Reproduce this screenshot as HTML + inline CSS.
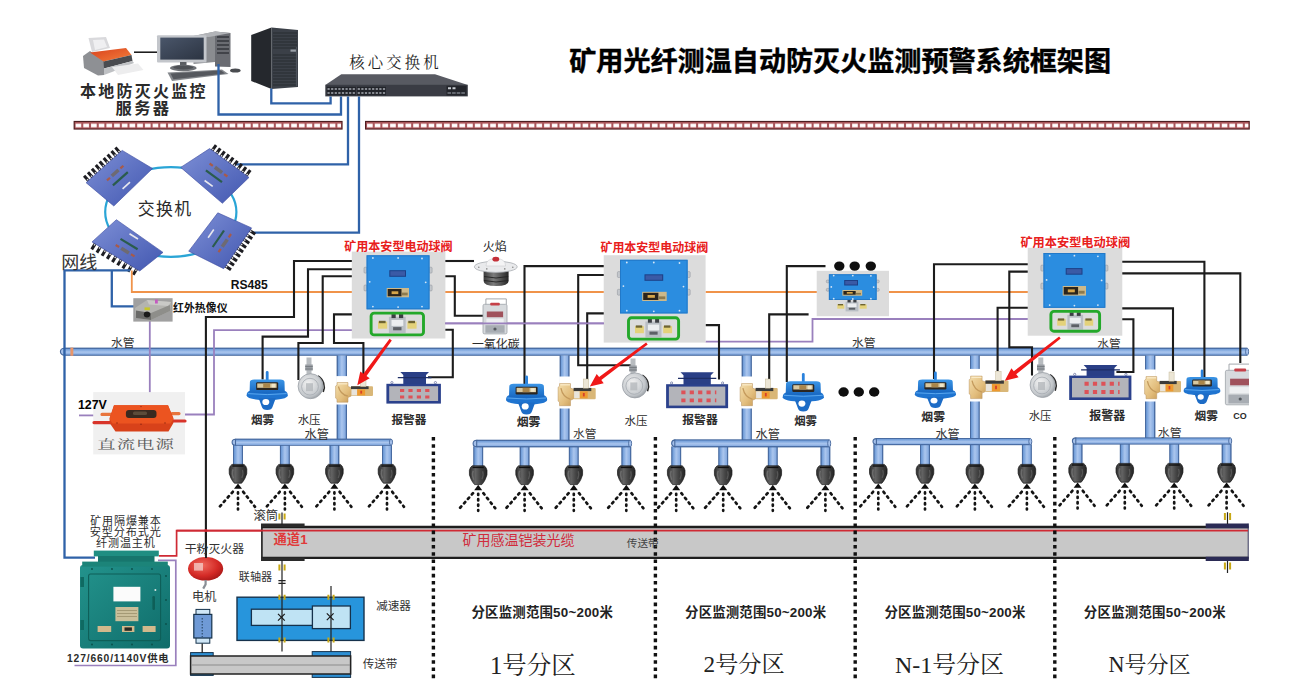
<!DOCTYPE html>
<html><head><meta charset="utf-8"><title>diagram</title>
<style>html,body{margin:0;padding:0;background:#fff;font-family:"Liberation Sans",sans-serif}svg{display:block}</style>
</head><body>
<svg width="1305" height="687" viewBox="0 0 1305 687" role="img" aria-label="矿用光纤测温自动防灭火监测预警系统框架图">
<desc>矿用光纤测温自动防灭火监测预警系统框架图 本地防灭火监控服务器 核心交换机 交换机 网线 RS485 红外热像仪 水管 127V 直流电源 矿用本安型电动球阀 火焰 一氧化碳 烟雾 水压 报警器 CO 矿用隔爆兼本安型分布式光纤测温主机 127/660/1140V供电 干粉灭火器 电机 联轴器 滚筒 通道1 减速器 传送带 矿用感温铠装光缆 分区监测范围50~200米 1号分区 2号分区 N-1号分区 N号分区</desc>
<defs>
<linearGradient id="gOr" x1="0" y1="0" x2="1" y2="1"><stop offset="0" stop-color="#d8401c"/><stop offset="1" stop-color="#f4803c"/></linearGradient>
<linearGradient id="gScr" x1="0" y1="0" x2="1" y2="1"><stop offset="0" stop-color="#4a566a"/><stop offset="1" stop-color="#2c3442"/></linearGradient>
<linearGradient id="gSw" x1="0" y1="0" x2="1" y2="1"><stop offset="0" stop-color="#7d8fd6"/><stop offset="1" stop-color="#4257b0"/></linearGradient>
<linearGradient id="gPipeH" x1="0" y1="0" x2="0" y2="1"><stop offset="0" stop-color="#46689c"/><stop offset="0.12" stop-color="#4a6ea6"/><stop offset="0.17" stop-color="#6f9cd8"/><stop offset="0.55" stop-color="#abc6ee"/><stop offset="0.82" stop-color="#86abe0"/><stop offset="0.88" stop-color="#4a6ea6"/><stop offset="1" stop-color="#46689c"/></linearGradient>
<linearGradient id="gPipeV" x1="0" y1="0" x2="1" y2="0"><stop offset="0" stop-color="#46689c"/><stop offset="0.1" stop-color="#4a6ea6"/><stop offset="0.15" stop-color="#6f9cd8"/><stop offset="0.5" stop-color="#abc6ee"/><stop offset="0.84" stop-color="#86abe0"/><stop offset="0.9" stop-color="#4a6ea6"/><stop offset="1" stop-color="#46689c"/></linearGradient>
<linearGradient id="gNoz" x1="0" y1="0" x2="1" y2="0"><stop offset="0" stop-color="#2c2c2c"/><stop offset="0.35" stop-color="#636363"/><stop offset="0.6" stop-color="#454545"/><stop offset="1" stop-color="#242424"/></linearGradient>
<radialGradient id="gDial" cx="0.4" cy="0.4" r="0.7"><stop offset="0" stop-color="#f2f2f2"/><stop offset="0.7" stop-color="#c4c8cc"/><stop offset="1" stop-color="#8c9298"/></radialGradient>
<linearGradient id="gBrass" x1="0" y1="0" x2="1" y2="1"><stop offset="0" stop-color="#f4dfae"/><stop offset="0.6" stop-color="#e2bd7c"/><stop offset="1" stop-color="#c79a55"/></linearGradient>
<linearGradient id="gSmoke" x1="0" y1="0" x2="0" y2="1"><stop offset="0" stop-color="#3b95e6"/><stop offset="1" stop-color="#1766c0"/></linearGradient>
<radialGradient id="gExt" cx="0.4" cy="0.35" r="0.75"><stop offset="0" stop-color="#f06a5e"/><stop offset="0.6" stop-color="#d42a26"/><stop offset="1" stop-color="#9c1414"/></radialGradient>
<linearGradient id="gTeal" x1="0" y1="0" x2="1" y2="1"><stop offset="0" stop-color="#23938c"/><stop offset="1" stop-color="#0f6c6a"/></linearGradient>
<linearGradient id="gRedBox" x1="0" y1="0" x2="0" y2="1"><stop offset="0" stop-color="#f0623c"/><stop offset="1" stop-color="#d63a1e"/></linearGradient>
<linearGradient id="gFlame" x1="0" y1="0" x2="1" y2="0"><stop offset="0" stop-color="#3a3a3a"/><stop offset="0.4" stop-color="#7c7c7c"/><stop offset="1" stop-color="#262626"/></linearGradient>
</defs><defs><clipPath id="cpR"><rect x="0" y="0" width="1249" height="687"/></clipPath></defs><rect x="73.6" y="120.9" width="269.0" height="8.7" fill="#4d1d20"/>
<rect x="74.7" y="122.0" width="266.8" height="6.5" fill="#a9565b"/>
<path d="M75.6 125.5 H341.0" stroke="#f3cfd0" stroke-width="4.0" stroke-dasharray="5.7 2.0" fill="none"/>
<path d="M75.9 125.5 H341.0" stroke="#fff" stroke-width="2.6" stroke-dasharray="5.1 2.6" fill="none"/>
<rect x="365.0" y="120.9" width="884.8" height="8.7" fill="#4d1d20"/>
<rect x="366.1" y="122.0" width="882.6" height="6.5" fill="#a9565b"/>
<path d="M367.0 125.5 H1248.2" stroke="#f3cfd0" stroke-width="4.0" stroke-dasharray="5.7 2.0" fill="none"/>
<path d="M367.3 125.5 H1248.2" stroke="#fff" stroke-width="2.6" stroke-dasharray="5.1 2.6" fill="none"/>
<g>
<polygon points="88.5,38 106,37 110,48 92,52" fill="#d9d9dc"/>
<polygon points="93,40 104,39.5 107,47 95,50" fill="#efeff1"/>
<polygon points="83,56 90,51 104,61 104,75 98,75.5 84,68" fill="#8e9094"/>
<polygon points="90,52.5 126,48 131.5,55 103.5,61.5" fill="url(#gOr)"/>
<polygon points="103.5,61.5 131.5,55 132.5,61 104,68.5" fill="#4a4c50"/>
<polygon points="104,68.5 132.5,61 134,63 112,72 104,75" fill="#bfc1c4"/>
<polygon points="112,67 138,63.5 143.5,70 118,75" fill="#ededee"/>
</g>
<path d="M134.0 52.2 L157.5 52.2" fill="none" stroke="#111" stroke-width="1.50" stroke-linejoin="miter" />
<polygon points="193.5,36 215,31.5 215,62 193.5,64" fill="#8a8c90"/>
<polygon points="215,31.5 230.5,33 230.5,67 215,66.5" fill="#6a6c72"/>
<path d="M217 37H229M217 41H229M217 45H229M217 49H229M217 53H229" stroke="#34363c" stroke-width="1.4"/>
<polygon points="193.5,36 215,31.5 230.5,33 209,37" fill="#b2b4b8"/>
<rect x="157" y="35.3" width="49.5" height="27.2" rx="1" fill="#c3c6cb"/>
<rect x="160.3" y="37.6" width="43.4" height="22" fill="url(#gScr)"/>
<rect x="180" y="62" width="6.5" height="6" fill="#5a5d62"/>
<ellipse cx="183.3" cy="68" rx="13.3" ry="3.3" fill="#6f7277"/>
<ellipse cx="183.3" cy="67.4" rx="10" ry="2" fill="#4d5055"/>
<polygon points="167.5,72.5 222,69.5 228.5,74 172,81" fill="#85888d"/>
<polygon points="170.5,73.6 221,70.6 225,73.6 173.5,79.2" fill="#55585e"/>
<ellipse cx="235.3" cy="70.6" rx="5.3" ry="2" fill="#4a4c50"/>
<polygon points="251.2,35 271.5,27.5 271.5,89 251.2,81" fill="#25282d"/>
<polygon points="271.5,27.5 298,30 298,87 271.5,89" fill="#3b4048"/>
<path d="M273 33.0H297M273 36.0H297M273 39.0H297M273 42.0H297M273 45.0H297M273 48.0H297M273 55.0H297M273 58.0H297M273 61.0H297M273 64.0H297M273 67.0H297M273 70.0H297M273 73.0H297M273 76.0H297M273 79.0H297M273 82.0H297M273 85.0H297" stroke="#272a30" stroke-width="0.9"/>
<rect x="290.5" y="49.5" width="5.5" height="2.2" fill="#9aa0a8"/>
<path d="M296.4 47V86" stroke="#50555e" stroke-width="1"/>
<polygon points="341.3,74.2 435,74.2 467.8,85 325.3,85" fill="#585a62"/>
<rect x="325.3" y="84.8" width="142.5" height="11.6" fill="#3a3c44"/>
<rect x="326.8" y="86.8" width="29" height="8.4" fill="#22242a"/>
<rect x="357" y="86.8" width="29" height="8.4" fill="#22242a"/>
<path d="M327.5 89H355.3M327.5 93H355.3M357.7 89H385.3M357.7 93H385.3" stroke="#a8acb4" stroke-width="1.6" stroke-dasharray="2.2 1.4"/>
<rect x="446.5" y="85.8" width="20" height="9.6" fill="#23252b"/>
<path d="M448 88.3H457" stroke="#c8ccd2" stroke-width="2" stroke-dasharray="3 1.5"/>
<path d="M447.5 93H465.5" stroke="#7a7e86" stroke-width="1.4" stroke-dasharray="3.6 1"/>
<path d="M218.5 64.0 L218.5 114.5 L341.0 114.5 L341.0 96.4" fill="none" stroke="#2f62a8" stroke-width="2.30" stroke-linejoin="miter" />
<path d="M271.3 88.5 L271.3 103.3 L330.6 103.3 L330.6 96.4" fill="none" stroke="#2f62a8" stroke-width="2.30" stroke-linejoin="miter" />
<path d="M348.0 96.4 L348.0 164.3 L234.0 164.3" fill="none" stroke="#2f62a8" stroke-width="2.30" stroke-linejoin="miter" />
<path d="M359.0 96.4 L359.0 232.7 L252.0 232.7" fill="none" stroke="#2f62a8" stroke-width="2.30" stroke-linejoin="miter" />
<ellipse cx="170.8" cy="212" rx="65.6" ry="44.8" fill="none" stroke="#2aa5d6" stroke-width="2.2"/>
<path d="M88.8 181.0L84.1 175.7" stroke="#1d1d22" stroke-width="3"/>
<path d="M88.3 180.4L87.1 179.1" stroke="#d8d8dc" stroke-width="1.4"/>
<path d="M92.7 177.5L88.0 172.2" stroke="#1d1d22" stroke-width="3"/>
<path d="M92.2 176.9L91.0 175.6" stroke="#d8d8dc" stroke-width="1.4"/>
<path d="M96.6 173.9L91.9 168.7" stroke="#1d1d22" stroke-width="3"/>
<path d="M96.2 173.4L95.0 172.1" stroke="#d8d8dc" stroke-width="1.4"/>
<path d="M100.6 170.4L95.8 165.1" stroke="#1d1d22" stroke-width="3"/>
<path d="M100.1 169.9L98.9 168.6" stroke="#d8d8dc" stroke-width="1.4"/>
<path d="M104.5 166.9L99.7 161.6" stroke="#1d1d22" stroke-width="3"/>
<path d="M104.0 166.4L102.8 165.1" stroke="#d8d8dc" stroke-width="1.4"/>
<path d="M108.4 163.4L103.7 158.1" stroke="#1d1d22" stroke-width="3"/>
<path d="M107.9 162.9L106.7 161.5" stroke="#d8d8dc" stroke-width="1.4"/>
<path d="M112.3 159.9L107.6 154.6" stroke="#1d1d22" stroke-width="3"/>
<path d="M111.9 159.4L110.7 158.0" stroke="#d8d8dc" stroke-width="1.4"/>
<path d="M116.3 156.4L111.5 151.1" stroke="#1d1d22" stroke-width="3"/>
<path d="M115.8 155.9L114.6 154.5" stroke="#d8d8dc" stroke-width="1.4"/>
<path d="M120.2 152.9L115.4 147.6" stroke="#1d1d22" stroke-width="3"/>
<path d="M119.7 152.4L118.5 151.0" stroke="#d8d8dc" stroke-width="1.4"/>
<polygon points="122.2,150.4 152.5,168.5 113.8,206.0 86.1,182.7" fill="url(#gSw)" stroke="#3a4aa0" stroke-width="0.6"/>
<path d="M112.9 185.4L127.8 172.1" stroke="#2a5c4c" stroke-width="2.2"/>
<path d="M111.8 176.0L118.5 170.0" stroke="#6e6a72" stroke-width="3.6"/>
<path d="M107.0 180.4L110.0 177.7" stroke="#a85a48" stroke-width="2.2"/>
<path d="M120.4 168.4L123.4 165.7" stroke="#a85a48" stroke-width="2.2"/>
<path d="M122.6 188.8L130.0 182.1" stroke="#e9e9ee" stroke-width="1.6"/>
<path d="M211.9 150.9L216.1 145.1" stroke="#1d1d22" stroke-width="3"/>
<path d="M212.3 150.3L213.3 148.9" stroke="#d8d8dc" stroke-width="1.4"/>
<path d="M216.2 154.0L220.3 148.3" stroke="#1d1d22" stroke-width="3"/>
<path d="M216.6 153.4L217.6 152.0" stroke="#d8d8dc" stroke-width="1.4"/>
<path d="M220.4 157.1L224.6 151.4" stroke="#1d1d22" stroke-width="3"/>
<path d="M220.9 156.6L221.9 155.1" stroke="#d8d8dc" stroke-width="1.4"/>
<path d="M224.7 160.3L228.9 154.5" stroke="#1d1d22" stroke-width="3"/>
<path d="M225.1 159.7L226.2 158.3" stroke="#d8d8dc" stroke-width="1.4"/>
<path d="M229.0 163.4L233.2 157.7" stroke="#1d1d22" stroke-width="3"/>
<path d="M229.4 162.8L230.5 161.4" stroke="#d8d8dc" stroke-width="1.4"/>
<path d="M233.3 166.5L237.5 160.8" stroke="#1d1d22" stroke-width="3"/>
<path d="M233.7 166.0L234.8 164.5" stroke="#d8d8dc" stroke-width="1.4"/>
<path d="M237.6 169.7L241.8 163.9" stroke="#1d1d22" stroke-width="3"/>
<path d="M238.0 169.1L239.0 167.6" stroke="#d8d8dc" stroke-width="1.4"/>
<path d="M241.9 172.8L246.0 167.1" stroke="#1d1d22" stroke-width="3"/>
<path d="M242.3 172.2L243.3 170.8" stroke="#d8d8dc" stroke-width="1.4"/>
<path d="M246.1 175.9L250.3 170.2" stroke="#1d1d22" stroke-width="3"/>
<path d="M246.5 175.4L247.6 173.9" stroke="#d8d8dc" stroke-width="1.4"/>
<polygon points="209.6,148.6 249.0,177.4 222.4,203.3 180.7,167.4" fill="url(#gSw)" stroke="#3a4aa0" stroke-width="0.6"/>
<path d="M205.9 170.3L222.0 182.1" stroke="#2a5c4c" stroke-width="2.2"/>
<path d="M214.9 167.3L222.1 172.6" stroke="#6e6a72" stroke-width="3.6"/>
<path d="M209.6 163.5L212.8 165.8" stroke="#a85a48" stroke-width="2.2"/>
<path d="M224.1 174.1L227.4 176.5" stroke="#a85a48" stroke-width="2.2"/>
<path d="M204.6 180.5L212.7 186.4" stroke="#e9e9ee" stroke-width="1.6"/>
<path d="M95.4 243.4L91.7 249.4" stroke="#1d1d22" stroke-width="3"/>
<path d="M95.0 244.0L94.1 245.5" stroke="#d8d8dc" stroke-width="1.4"/>
<path d="M100.6 246.5L96.9 252.6" stroke="#1d1d22" stroke-width="3"/>
<path d="M100.2 247.1L99.3 248.7" stroke="#d8d8dc" stroke-width="1.4"/>
<path d="M105.7 249.7L102.0 255.8" stroke="#1d1d22" stroke-width="3"/>
<path d="M105.4 250.3L104.4 251.8" stroke="#d8d8dc" stroke-width="1.4"/>
<path d="M110.9 252.9L107.2 258.9" stroke="#1d1d22" stroke-width="3"/>
<path d="M110.6 253.5L109.6 255.0" stroke="#d8d8dc" stroke-width="1.4"/>
<path d="M116.1 256.0L112.4 262.1" stroke="#1d1d22" stroke-width="3"/>
<path d="M115.7 256.6L114.8 258.2" stroke="#d8d8dc" stroke-width="1.4"/>
<path d="M121.3 259.2L117.6 265.2" stroke="#1d1d22" stroke-width="3"/>
<path d="M120.9 259.8L120.0 261.3" stroke="#d8d8dc" stroke-width="1.4"/>
<path d="M126.5 262.3L122.8 268.4" stroke="#1d1d22" stroke-width="3"/>
<path d="M126.1 262.9L125.2 264.5" stroke="#d8d8dc" stroke-width="1.4"/>
<path d="M131.7 265.5L128.0 271.6" stroke="#1d1d22" stroke-width="3"/>
<path d="M131.3 266.1L130.4 267.6" stroke="#d8d8dc" stroke-width="1.4"/>
<path d="M136.8 268.7L133.2 274.7" stroke="#1d1d22" stroke-width="3"/>
<path d="M136.5 269.3L135.5 270.8" stroke="#d8d8dc" stroke-width="1.4"/>
<polygon points="116.4,219.7 163.0,252.4 139.7,271.0 92.0,241.9" fill="url(#gSw)" stroke="#3a4aa0" stroke-width="0.6"/>
<path d="M120.5 238.9L137.6 249.3" stroke="#2a5c4c" stroke-width="2.2"/>
<path d="M121.2 248.3L128.9 253.0" stroke="#6e6a72" stroke-width="3.6"/>
<path d="M115.7 245.0L119.1 247.0" stroke="#a85a48" stroke-width="2.2"/>
<path d="M131.0 254.3L134.5 256.4" stroke="#a85a48" stroke-width="2.2"/>
<path d="M129.5 233.8L138.0 239.0" stroke="#e9e9ee" stroke-width="1.6"/>
<path d="M249.4 230.3L255.2 234.3" stroke="#1d1d22" stroke-width="3"/>
<path d="M249.9 230.7L251.4 231.7" stroke="#d8d8dc" stroke-width="1.4"/>
<path d="M246.3 234.7L252.2 238.7" stroke="#1d1d22" stroke-width="3"/>
<path d="M246.9 235.1L248.4 236.1" stroke="#d8d8dc" stroke-width="1.4"/>
<path d="M243.3 239.1L249.2 243.2" stroke="#1d1d22" stroke-width="3"/>
<path d="M243.9 239.5L245.4 240.6" stroke="#d8d8dc" stroke-width="1.4"/>
<path d="M240.3 243.6L246.1 247.6" stroke="#1d1d22" stroke-width="3"/>
<path d="M240.8 244.0L242.3 245.0" stroke="#d8d8dc" stroke-width="1.4"/>
<path d="M237.2 248.0L243.1 252.0" stroke="#1d1d22" stroke-width="3"/>
<path d="M237.8 248.4L239.3 249.4" stroke="#d8d8dc" stroke-width="1.4"/>
<path d="M234.2 252.5L240.1 256.5" stroke="#1d1d22" stroke-width="3"/>
<path d="M234.8 252.8L236.3 253.9" stroke="#d8d8dc" stroke-width="1.4"/>
<path d="M231.2 256.9L237.0 260.9" stroke="#1d1d22" stroke-width="3"/>
<path d="M231.7 257.3L233.2 258.3" stroke="#d8d8dc" stroke-width="1.4"/>
<path d="M228.1 261.3L234.0 265.3" stroke="#1d1d22" stroke-width="3"/>
<path d="M228.7 261.7L230.2 262.7" stroke="#d8d8dc" stroke-width="1.4"/>
<path d="M225.1 265.8L231.0 269.8" stroke="#1d1d22" stroke-width="3"/>
<path d="M225.7 266.2L227.2 267.2" stroke="#d8d8dc" stroke-width="1.4"/>
<polygon points="217.8,212.8 251.6,227.9 223.7,268.7 188.7,251.2" fill="url(#gSw)" stroke="#3a4aa0" stroke-width="0.6"/>
<path d="M224.0 230.5L212.7 247.0" stroke="#2a5c4c" stroke-width="2.2"/>
<path d="M227.3 239.4L222.2 246.8" stroke="#6e6a72" stroke-width="3.6"/>
<path d="M231.0 234.0L228.7 237.3" stroke="#a85a48" stroke-width="2.2"/>
<path d="M220.8 248.9L218.5 252.2" stroke="#a85a48" stroke-width="2.2"/>
<path d="M213.8 229.5L208.1 237.8" stroke="#e9e9ee" stroke-width="1.6"/>
<rect x="64.1" y="347.6" width="1183.0" height="8.2" fill="url(#gPipeH)"/>
<path d="M64.3 348.2 A3.9 3.5 0 0 0 64.3 355.2 Z" fill="#a4c0ea" stroke="#46689c" stroke-width="1.1"/>
<ellipse cx="1247.1" cy="351.7" rx="1.5" ry="3.6" fill="#a9c4ee" stroke="#46689c" stroke-width="0.9"/>
<rect x="70.4" y="347.6" width="2.9" height="8.2" fill="#e9966a"/>
<rect x="336.6" y="355.5" width="10.4" height="83.7" fill="url(#gPipeV)"/>
<rect x="559.6" y="355.5" width="10.0" height="84.7" fill="url(#gPipeV)"/>
<rect x="741.6" y="355.5" width="10.3" height="84.5" fill="url(#gPipeV)"/>
<rect x="970.0" y="355.5" width="9.8" height="83.1" fill="url(#gPipeV)"/>
<rect x="1145.0" y="355.5" width="10.4" height="82.5" fill="url(#gPipeV)"/>
<rect x="233.0" y="444.8" width="10.0" height="20.6" fill="url(#gPipeV)"/>
<rect x="279.9" y="444.8" width="10.0" height="20.6" fill="url(#gPipeV)"/>
<rect x="329.4" y="444.8" width="10.0" height="20.6" fill="url(#gPipeV)"/>
<rect x="382.0" y="444.8" width="10.0" height="20.6" fill="url(#gPipeV)"/>
<rect x="235.3" y="438.6" width="155.7" height="7.2" fill="url(#gPipeH)"/>
<path d="M235.5 439.2 A3.4 3.0 0 0 0 235.5 445.2 Z" fill="#a4c0ea" stroke="#46689c" stroke-width="1.1"/>
<ellipse cx="391.0" cy="442.2" rx="1.5" ry="3.1" fill="#a9c4ee" stroke="#46689c" stroke-width="0.9"/>
<g transform="translate(238.0 464.4)">
<path d="M-6 0H6Q8 1 8.8 4.5Q9.6 9 7 13.8Q5.5 16.8 3.6 18.8H-3.6Q-5.5 16.8 -7 13.8Q-9.6 9 -8.8 4.5Q-8 1 -6 0Z" fill="url(#gNoz)" stroke="#161616" stroke-width="0.7"/>
<path d="M-5.6 1.6H5.6" stroke="#111" stroke-width="1.4"/>
<path d="M-5 5Q-6.6 9 -4.4 14" stroke="#7a7a7a" stroke-width="1.5" fill="none" opacity="0.7"/>
<path d="M4.4 5.5Q5.8 9 3.8 13.5" stroke="#6a6a6a" stroke-width="1.2" fill="none" opacity="0.6"/>
<path d="M0 19L4 24.4H-4Z" fill="#0d0d0d"/>
<path d="M-5.2 27.4L-19 43M5.2 27.4L17 42.4" stroke="#141414" stroke-width="2.7" stroke-linecap="round" stroke-dasharray="1.7 4.2" fill="none"/>
<path d="M0 28V45" stroke="#141414" stroke-width="2.7" stroke-linecap="round" stroke-dasharray="1.2 4.2" fill="none"/>
</g>
<g transform="translate(284.9 464.4)">
<path d="M-6 0H6Q8 1 8.8 4.5Q9.6 9 7 13.8Q5.5 16.8 3.6 18.8H-3.6Q-5.5 16.8 -7 13.8Q-9.6 9 -8.8 4.5Q-8 1 -6 0Z" fill="url(#gNoz)" stroke="#161616" stroke-width="0.7"/>
<path d="M-5.6 1.6H5.6" stroke="#111" stroke-width="1.4"/>
<path d="M-5 5Q-6.6 9 -4.4 14" stroke="#7a7a7a" stroke-width="1.5" fill="none" opacity="0.7"/>
<path d="M4.4 5.5Q5.8 9 3.8 13.5" stroke="#6a6a6a" stroke-width="1.2" fill="none" opacity="0.6"/>
<path d="M0 19L4 24.4H-4Z" fill="#0d0d0d"/>
<path d="M-5.2 27.4L-19 43M5.2 27.4L17 42.4" stroke="#141414" stroke-width="2.7" stroke-linecap="round" stroke-dasharray="1.7 4.2" fill="none"/>
<path d="M0 28V45" stroke="#141414" stroke-width="2.7" stroke-linecap="round" stroke-dasharray="1.2 4.2" fill="none"/>
</g>
<g transform="translate(334.4 464.4)">
<path d="M-6 0H6Q8 1 8.8 4.5Q9.6 9 7 13.8Q5.5 16.8 3.6 18.8H-3.6Q-5.5 16.8 -7 13.8Q-9.6 9 -8.8 4.5Q-8 1 -6 0Z" fill="url(#gNoz)" stroke="#161616" stroke-width="0.7"/>
<path d="M-5.6 1.6H5.6" stroke="#111" stroke-width="1.4"/>
<path d="M-5 5Q-6.6 9 -4.4 14" stroke="#7a7a7a" stroke-width="1.5" fill="none" opacity="0.7"/>
<path d="M4.4 5.5Q5.8 9 3.8 13.5" stroke="#6a6a6a" stroke-width="1.2" fill="none" opacity="0.6"/>
<path d="M0 19L4 24.4H-4Z" fill="#0d0d0d"/>
<path d="M-5.2 27.4L-19 43M5.2 27.4L17 42.4" stroke="#141414" stroke-width="2.7" stroke-linecap="round" stroke-dasharray="1.7 4.2" fill="none"/>
<path d="M0 28V45" stroke="#141414" stroke-width="2.7" stroke-linecap="round" stroke-dasharray="1.2 4.2" fill="none"/>
</g>
<g transform="translate(387.0 464.4)">
<path d="M-6 0H6Q8 1 8.8 4.5Q9.6 9 7 13.8Q5.5 16.8 3.6 18.8H-3.6Q-5.5 16.8 -7 13.8Q-9.6 9 -8.8 4.5Q-8 1 -6 0Z" fill="url(#gNoz)" stroke="#161616" stroke-width="0.7"/>
<path d="M-5.6 1.6H5.6" stroke="#111" stroke-width="1.4"/>
<path d="M-5 5Q-6.6 9 -4.4 14" stroke="#7a7a7a" stroke-width="1.5" fill="none" opacity="0.7"/>
<path d="M4.4 5.5Q5.8 9 3.8 13.5" stroke="#6a6a6a" stroke-width="1.2" fill="none" opacity="0.6"/>
<path d="M0 19L4 24.4H-4Z" fill="#0d0d0d"/>
<path d="M-5.2 27.4L-19 43M5.2 27.4L17 42.4" stroke="#141414" stroke-width="2.7" stroke-linecap="round" stroke-dasharray="1.7 4.2" fill="none"/>
<path d="M0 28V45" stroke="#141414" stroke-width="2.7" stroke-linecap="round" stroke-dasharray="1.2 4.2" fill="none"/>
</g>
<rect x="473.2" y="446.4" width="10.0" height="20.4" fill="url(#gPipeV)"/>
<rect x="519.6" y="446.4" width="10.0" height="20.4" fill="url(#gPipeV)"/>
<rect x="568.8" y="446.4" width="10.0" height="20.4" fill="url(#gPipeV)"/>
<rect x="621.3" y="446.4" width="10.0" height="20.4" fill="url(#gPipeV)"/>
<rect x="476.5" y="439.7" width="153.6" height="7.7" fill="url(#gPipeH)"/>
<path d="M476.7 440.2 A3.6 3.3 0 0 0 476.7 446.8 Z" fill="#a4c0ea" stroke="#46689c" stroke-width="1.1"/>
<ellipse cx="630.1" cy="443.5" rx="1.5" ry="3.4" fill="#a9c4ee" stroke="#46689c" stroke-width="0.9"/>
<g transform="translate(478.2 465.8)">
<path d="M-6 0H6Q8 1 8.8 4.5Q9.6 9 7 13.8Q5.5 16.8 3.6 18.8H-3.6Q-5.5 16.8 -7 13.8Q-9.6 9 -8.8 4.5Q-8 1 -6 0Z" fill="url(#gNoz)" stroke="#161616" stroke-width="0.7"/>
<path d="M-5.6 1.6H5.6" stroke="#111" stroke-width="1.4"/>
<path d="M-5 5Q-6.6 9 -4.4 14" stroke="#7a7a7a" stroke-width="1.5" fill="none" opacity="0.7"/>
<path d="M4.4 5.5Q5.8 9 3.8 13.5" stroke="#6a6a6a" stroke-width="1.2" fill="none" opacity="0.6"/>
<path d="M0 19L4 24.4H-4Z" fill="#0d0d0d"/>
<path d="M-5.2 27.4L-19 43M5.2 27.4L17 42.4" stroke="#141414" stroke-width="2.7" stroke-linecap="round" stroke-dasharray="1.7 4.2" fill="none"/>
<path d="M0 28V45" stroke="#141414" stroke-width="2.7" stroke-linecap="round" stroke-dasharray="1.2 4.2" fill="none"/>
</g>
<g transform="translate(524.6 465.8)">
<path d="M-6 0H6Q8 1 8.8 4.5Q9.6 9 7 13.8Q5.5 16.8 3.6 18.8H-3.6Q-5.5 16.8 -7 13.8Q-9.6 9 -8.8 4.5Q-8 1 -6 0Z" fill="url(#gNoz)" stroke="#161616" stroke-width="0.7"/>
<path d="M-5.6 1.6H5.6" stroke="#111" stroke-width="1.4"/>
<path d="M-5 5Q-6.6 9 -4.4 14" stroke="#7a7a7a" stroke-width="1.5" fill="none" opacity="0.7"/>
<path d="M4.4 5.5Q5.8 9 3.8 13.5" stroke="#6a6a6a" stroke-width="1.2" fill="none" opacity="0.6"/>
<path d="M0 19L4 24.4H-4Z" fill="#0d0d0d"/>
<path d="M-5.2 27.4L-19 43M5.2 27.4L17 42.4" stroke="#141414" stroke-width="2.7" stroke-linecap="round" stroke-dasharray="1.7 4.2" fill="none"/>
<path d="M0 28V45" stroke="#141414" stroke-width="2.7" stroke-linecap="round" stroke-dasharray="1.2 4.2" fill="none"/>
</g>
<g transform="translate(573.8 465.8)">
<path d="M-6 0H6Q8 1 8.8 4.5Q9.6 9 7 13.8Q5.5 16.8 3.6 18.8H-3.6Q-5.5 16.8 -7 13.8Q-9.6 9 -8.8 4.5Q-8 1 -6 0Z" fill="url(#gNoz)" stroke="#161616" stroke-width="0.7"/>
<path d="M-5.6 1.6H5.6" stroke="#111" stroke-width="1.4"/>
<path d="M-5 5Q-6.6 9 -4.4 14" stroke="#7a7a7a" stroke-width="1.5" fill="none" opacity="0.7"/>
<path d="M4.4 5.5Q5.8 9 3.8 13.5" stroke="#6a6a6a" stroke-width="1.2" fill="none" opacity="0.6"/>
<path d="M0 19L4 24.4H-4Z" fill="#0d0d0d"/>
<path d="M-5.2 27.4L-19 43M5.2 27.4L17 42.4" stroke="#141414" stroke-width="2.7" stroke-linecap="round" stroke-dasharray="1.7 4.2" fill="none"/>
<path d="M0 28V45" stroke="#141414" stroke-width="2.7" stroke-linecap="round" stroke-dasharray="1.2 4.2" fill="none"/>
</g>
<g transform="translate(626.3 465.8)">
<path d="M-6 0H6Q8 1 8.8 4.5Q9.6 9 7 13.8Q5.5 16.8 3.6 18.8H-3.6Q-5.5 16.8 -7 13.8Q-9.6 9 -8.8 4.5Q-8 1 -6 0Z" fill="url(#gNoz)" stroke="#161616" stroke-width="0.7"/>
<path d="M-5.6 1.6H5.6" stroke="#111" stroke-width="1.4"/>
<path d="M-5 5Q-6.6 9 -4.4 14" stroke="#7a7a7a" stroke-width="1.5" fill="none" opacity="0.7"/>
<path d="M4.4 5.5Q5.8 9 3.8 13.5" stroke="#6a6a6a" stroke-width="1.2" fill="none" opacity="0.6"/>
<path d="M0 19L4 24.4H-4Z" fill="#0d0d0d"/>
<path d="M-5.2 27.4L-19 43M5.2 27.4L17 42.4" stroke="#141414" stroke-width="2.7" stroke-linecap="round" stroke-dasharray="1.7 4.2" fill="none"/>
<path d="M0 28V45" stroke="#141414" stroke-width="2.7" stroke-linecap="round" stroke-dasharray="1.2 4.2" fill="none"/>
</g>
<rect x="671.2" y="446.4" width="10.0" height="20.4" fill="url(#gPipeV)"/>
<rect x="718.2" y="446.4" width="10.0" height="20.4" fill="url(#gPipeV)"/>
<rect x="767.8" y="446.4" width="10.0" height="20.4" fill="url(#gPipeV)"/>
<rect x="820.4" y="446.4" width="10.0" height="20.4" fill="url(#gPipeV)"/>
<rect x="674.5" y="439.3" width="154.6" height="8.1" fill="url(#gPipeH)"/>
<path d="M674.8 439.9 A3.8 3.5 0 0 0 674.8 446.8 Z" fill="#a4c0ea" stroke="#46689c" stroke-width="1.1"/>
<ellipse cx="829.2" cy="443.4" rx="1.5" ry="3.6" fill="#a9c4ee" stroke="#46689c" stroke-width="0.9"/>
<g transform="translate(676.2 465.8)">
<path d="M-6 0H6Q8 1 8.8 4.5Q9.6 9 7 13.8Q5.5 16.8 3.6 18.8H-3.6Q-5.5 16.8 -7 13.8Q-9.6 9 -8.8 4.5Q-8 1 -6 0Z" fill="url(#gNoz)" stroke="#161616" stroke-width="0.7"/>
<path d="M-5.6 1.6H5.6" stroke="#111" stroke-width="1.4"/>
<path d="M-5 5Q-6.6 9 -4.4 14" stroke="#7a7a7a" stroke-width="1.5" fill="none" opacity="0.7"/>
<path d="M4.4 5.5Q5.8 9 3.8 13.5" stroke="#6a6a6a" stroke-width="1.2" fill="none" opacity="0.6"/>
<path d="M0 19L4 24.4H-4Z" fill="#0d0d0d"/>
<path d="M-5.2 27.4L-19 43M5.2 27.4L17 42.4" stroke="#141414" stroke-width="2.7" stroke-linecap="round" stroke-dasharray="1.7 4.2" fill="none"/>
<path d="M0 28V45" stroke="#141414" stroke-width="2.7" stroke-linecap="round" stroke-dasharray="1.2 4.2" fill="none"/>
</g>
<g transform="translate(723.2 465.8)">
<path d="M-6 0H6Q8 1 8.8 4.5Q9.6 9 7 13.8Q5.5 16.8 3.6 18.8H-3.6Q-5.5 16.8 -7 13.8Q-9.6 9 -8.8 4.5Q-8 1 -6 0Z" fill="url(#gNoz)" stroke="#161616" stroke-width="0.7"/>
<path d="M-5.6 1.6H5.6" stroke="#111" stroke-width="1.4"/>
<path d="M-5 5Q-6.6 9 -4.4 14" stroke="#7a7a7a" stroke-width="1.5" fill="none" opacity="0.7"/>
<path d="M4.4 5.5Q5.8 9 3.8 13.5" stroke="#6a6a6a" stroke-width="1.2" fill="none" opacity="0.6"/>
<path d="M0 19L4 24.4H-4Z" fill="#0d0d0d"/>
<path d="M-5.2 27.4L-19 43M5.2 27.4L17 42.4" stroke="#141414" stroke-width="2.7" stroke-linecap="round" stroke-dasharray="1.7 4.2" fill="none"/>
<path d="M0 28V45" stroke="#141414" stroke-width="2.7" stroke-linecap="round" stroke-dasharray="1.2 4.2" fill="none"/>
</g>
<g transform="translate(772.8 465.8)">
<path d="M-6 0H6Q8 1 8.8 4.5Q9.6 9 7 13.8Q5.5 16.8 3.6 18.8H-3.6Q-5.5 16.8 -7 13.8Q-9.6 9 -8.8 4.5Q-8 1 -6 0Z" fill="url(#gNoz)" stroke="#161616" stroke-width="0.7"/>
<path d="M-5.6 1.6H5.6" stroke="#111" stroke-width="1.4"/>
<path d="M-5 5Q-6.6 9 -4.4 14" stroke="#7a7a7a" stroke-width="1.5" fill="none" opacity="0.7"/>
<path d="M4.4 5.5Q5.8 9 3.8 13.5" stroke="#6a6a6a" stroke-width="1.2" fill="none" opacity="0.6"/>
<path d="M0 19L4 24.4H-4Z" fill="#0d0d0d"/>
<path d="M-5.2 27.4L-19 43M5.2 27.4L17 42.4" stroke="#141414" stroke-width="2.7" stroke-linecap="round" stroke-dasharray="1.7 4.2" fill="none"/>
<path d="M0 28V45" stroke="#141414" stroke-width="2.7" stroke-linecap="round" stroke-dasharray="1.2 4.2" fill="none"/>
</g>
<g transform="translate(825.4 465.8)">
<path d="M-6 0H6Q8 1 8.8 4.5Q9.6 9 7 13.8Q5.5 16.8 3.6 18.8H-3.6Q-5.5 16.8 -7 13.8Q-9.6 9 -8.8 4.5Q-8 1 -6 0Z" fill="url(#gNoz)" stroke="#161616" stroke-width="0.7"/>
<path d="M-5.6 1.6H5.6" stroke="#111" stroke-width="1.4"/>
<path d="M-5 5Q-6.6 9 -4.4 14" stroke="#7a7a7a" stroke-width="1.5" fill="none" opacity="0.7"/>
<path d="M4.4 5.5Q5.8 9 3.8 13.5" stroke="#6a6a6a" stroke-width="1.2" fill="none" opacity="0.6"/>
<path d="M0 19L4 24.4H-4Z" fill="#0d0d0d"/>
<path d="M-5.2 27.4L-19 43M5.2 27.4L17 42.4" stroke="#141414" stroke-width="2.7" stroke-linecap="round" stroke-dasharray="1.7 4.2" fill="none"/>
<path d="M0 28V45" stroke="#141414" stroke-width="2.7" stroke-linecap="round" stroke-dasharray="1.2 4.2" fill="none"/>
</g>
<rect x="873.3" y="444.2" width="10.0" height="21.2" fill="url(#gPipeV)"/>
<rect x="920.0" y="444.2" width="10.0" height="21.2" fill="url(#gPipeV)"/>
<rect x="969.9" y="444.2" width="10.0" height="21.2" fill="url(#gPipeV)"/>
<rect x="1021.9" y="444.2" width="10.0" height="21.2" fill="url(#gPipeV)"/>
<rect x="876.2" y="438.0" width="154.1" height="7.2" fill="url(#gPipeH)"/>
<path d="M876.4 438.6 A3.4 3.0 0 0 0 876.4 444.6 Z" fill="#a4c0ea" stroke="#46689c" stroke-width="1.1"/>
<ellipse cx="1030.3" cy="441.6" rx="1.5" ry="3.1" fill="#a9c4ee" stroke="#46689c" stroke-width="0.9"/>
<g transform="translate(878.3 464.4)">
<path d="M-6 0H6Q8 1 8.8 4.5Q9.6 9 7 13.8Q5.5 16.8 3.6 18.8H-3.6Q-5.5 16.8 -7 13.8Q-9.6 9 -8.8 4.5Q-8 1 -6 0Z" fill="url(#gNoz)" stroke="#161616" stroke-width="0.7"/>
<path d="M-5.6 1.6H5.6" stroke="#111" stroke-width="1.4"/>
<path d="M-5 5Q-6.6 9 -4.4 14" stroke="#7a7a7a" stroke-width="1.5" fill="none" opacity="0.7"/>
<path d="M4.4 5.5Q5.8 9 3.8 13.5" stroke="#6a6a6a" stroke-width="1.2" fill="none" opacity="0.6"/>
<path d="M0 19L4 24.4H-4Z" fill="#0d0d0d"/>
<path d="M-5.2 27.4L-19 43M5.2 27.4L17 42.4" stroke="#141414" stroke-width="2.7" stroke-linecap="round" stroke-dasharray="1.7 4.2" fill="none"/>
<path d="M0 28V45" stroke="#141414" stroke-width="2.7" stroke-linecap="round" stroke-dasharray="1.2 4.2" fill="none"/>
</g>
<g transform="translate(925.0 464.4)">
<path d="M-6 0H6Q8 1 8.8 4.5Q9.6 9 7 13.8Q5.5 16.8 3.6 18.8H-3.6Q-5.5 16.8 -7 13.8Q-9.6 9 -8.8 4.5Q-8 1 -6 0Z" fill="url(#gNoz)" stroke="#161616" stroke-width="0.7"/>
<path d="M-5.6 1.6H5.6" stroke="#111" stroke-width="1.4"/>
<path d="M-5 5Q-6.6 9 -4.4 14" stroke="#7a7a7a" stroke-width="1.5" fill="none" opacity="0.7"/>
<path d="M4.4 5.5Q5.8 9 3.8 13.5" stroke="#6a6a6a" stroke-width="1.2" fill="none" opacity="0.6"/>
<path d="M0 19L4 24.4H-4Z" fill="#0d0d0d"/>
<path d="M-5.2 27.4L-19 43M5.2 27.4L17 42.4" stroke="#141414" stroke-width="2.7" stroke-linecap="round" stroke-dasharray="1.7 4.2" fill="none"/>
<path d="M0 28V45" stroke="#141414" stroke-width="2.7" stroke-linecap="round" stroke-dasharray="1.2 4.2" fill="none"/>
</g>
<g transform="translate(974.9 464.4)">
<path d="M-6 0H6Q8 1 8.8 4.5Q9.6 9 7 13.8Q5.5 16.8 3.6 18.8H-3.6Q-5.5 16.8 -7 13.8Q-9.6 9 -8.8 4.5Q-8 1 -6 0Z" fill="url(#gNoz)" stroke="#161616" stroke-width="0.7"/>
<path d="M-5.6 1.6H5.6" stroke="#111" stroke-width="1.4"/>
<path d="M-5 5Q-6.6 9 -4.4 14" stroke="#7a7a7a" stroke-width="1.5" fill="none" opacity="0.7"/>
<path d="M4.4 5.5Q5.8 9 3.8 13.5" stroke="#6a6a6a" stroke-width="1.2" fill="none" opacity="0.6"/>
<path d="M0 19L4 24.4H-4Z" fill="#0d0d0d"/>
<path d="M-5.2 27.4L-19 43M5.2 27.4L17 42.4" stroke="#141414" stroke-width="2.7" stroke-linecap="round" stroke-dasharray="1.7 4.2" fill="none"/>
<path d="M0 28V45" stroke="#141414" stroke-width="2.7" stroke-linecap="round" stroke-dasharray="1.2 4.2" fill="none"/>
</g>
<g transform="translate(1026.9 464.4)">
<path d="M-6 0H6Q8 1 8.8 4.5Q9.6 9 7 13.8Q5.5 16.8 3.6 18.8H-3.6Q-5.5 16.8 -7 13.8Q-9.6 9 -8.8 4.5Q-8 1 -6 0Z" fill="url(#gNoz)" stroke="#161616" stroke-width="0.7"/>
<path d="M-5.6 1.6H5.6" stroke="#111" stroke-width="1.4"/>
<path d="M-5 5Q-6.6 9 -4.4 14" stroke="#7a7a7a" stroke-width="1.5" fill="none" opacity="0.7"/>
<path d="M4.4 5.5Q5.8 9 3.8 13.5" stroke="#6a6a6a" stroke-width="1.2" fill="none" opacity="0.6"/>
<path d="M0 19L4 24.4H-4Z" fill="#0d0d0d"/>
<path d="M-5.2 27.4L-19 43M5.2 27.4L17 42.4" stroke="#141414" stroke-width="2.7" stroke-linecap="round" stroke-dasharray="1.7 4.2" fill="none"/>
<path d="M0 28V45" stroke="#141414" stroke-width="2.7" stroke-linecap="round" stroke-dasharray="1.2 4.2" fill="none"/>
</g>
<rect x="1072.6" y="443.6" width="10.0" height="20.8" fill="url(#gPipeV)"/>
<rect x="1119.8" y="443.6" width="10.0" height="20.8" fill="url(#gPipeV)"/>
<rect x="1169.2" y="443.6" width="10.0" height="20.8" fill="url(#gPipeV)"/>
<rect x="1221.6" y="443.6" width="10.0" height="20.8" fill="url(#gPipeV)"/>
<rect x="1075.6" y="437.4" width="154.6" height="7.2" fill="url(#gPipeH)"/>
<path d="M1075.8 437.9 A3.4 3.1 0 0 0 1075.8 444.1 Z" fill="#a4c0ea" stroke="#46689c" stroke-width="1.1"/>
<ellipse cx="1230.2" cy="441.0" rx="1.5" ry="3.2" fill="#a9c4ee" stroke="#46689c" stroke-width="0.9"/>
<g transform="translate(1077.6 463.4)">
<path d="M-6 0H6Q8 1 8.8 4.5Q9.6 9 7 13.8Q5.5 16.8 3.6 18.8H-3.6Q-5.5 16.8 -7 13.8Q-9.6 9 -8.8 4.5Q-8 1 -6 0Z" fill="url(#gNoz)" stroke="#161616" stroke-width="0.7"/>
<path d="M-5.6 1.6H5.6" stroke="#111" stroke-width="1.4"/>
<path d="M-5 5Q-6.6 9 -4.4 14" stroke="#7a7a7a" stroke-width="1.5" fill="none" opacity="0.7"/>
<path d="M4.4 5.5Q5.8 9 3.8 13.5" stroke="#6a6a6a" stroke-width="1.2" fill="none" opacity="0.6"/>
<path d="M0 19L4 24.4H-4Z" fill="#0d0d0d"/>
<path d="M-5.2 27.4L-19 43M5.2 27.4L17 42.4" stroke="#141414" stroke-width="2.7" stroke-linecap="round" stroke-dasharray="1.7 4.2" fill="none"/>
<path d="M0 28V45" stroke="#141414" stroke-width="2.7" stroke-linecap="round" stroke-dasharray="1.2 4.2" fill="none"/>
</g>
<g transform="translate(1124.8 463.4)">
<path d="M-6 0H6Q8 1 8.8 4.5Q9.6 9 7 13.8Q5.5 16.8 3.6 18.8H-3.6Q-5.5 16.8 -7 13.8Q-9.6 9 -8.8 4.5Q-8 1 -6 0Z" fill="url(#gNoz)" stroke="#161616" stroke-width="0.7"/>
<path d="M-5.6 1.6H5.6" stroke="#111" stroke-width="1.4"/>
<path d="M-5 5Q-6.6 9 -4.4 14" stroke="#7a7a7a" stroke-width="1.5" fill="none" opacity="0.7"/>
<path d="M4.4 5.5Q5.8 9 3.8 13.5" stroke="#6a6a6a" stroke-width="1.2" fill="none" opacity="0.6"/>
<path d="M0 19L4 24.4H-4Z" fill="#0d0d0d"/>
<path d="M-5.2 27.4L-19 43M5.2 27.4L17 42.4" stroke="#141414" stroke-width="2.7" stroke-linecap="round" stroke-dasharray="1.7 4.2" fill="none"/>
<path d="M0 28V45" stroke="#141414" stroke-width="2.7" stroke-linecap="round" stroke-dasharray="1.2 4.2" fill="none"/>
</g>
<g transform="translate(1174.2 463.4)">
<path d="M-6 0H6Q8 1 8.8 4.5Q9.6 9 7 13.8Q5.5 16.8 3.6 18.8H-3.6Q-5.5 16.8 -7 13.8Q-9.6 9 -8.8 4.5Q-8 1 -6 0Z" fill="url(#gNoz)" stroke="#161616" stroke-width="0.7"/>
<path d="M-5.6 1.6H5.6" stroke="#111" stroke-width="1.4"/>
<path d="M-5 5Q-6.6 9 -4.4 14" stroke="#7a7a7a" stroke-width="1.5" fill="none" opacity="0.7"/>
<path d="M4.4 5.5Q5.8 9 3.8 13.5" stroke="#6a6a6a" stroke-width="1.2" fill="none" opacity="0.6"/>
<path d="M0 19L4 24.4H-4Z" fill="#0d0d0d"/>
<path d="M-5.2 27.4L-19 43M5.2 27.4L17 42.4" stroke="#141414" stroke-width="2.7" stroke-linecap="round" stroke-dasharray="1.7 4.2" fill="none"/>
<path d="M0 28V45" stroke="#141414" stroke-width="2.7" stroke-linecap="round" stroke-dasharray="1.2 4.2" fill="none"/>
</g>
<g transform="translate(1226.6 463.4)">
<path d="M-6 0H6Q8 1 8.8 4.5Q9.6 9 7 13.8Q5.5 16.8 3.6 18.8H-3.6Q-5.5 16.8 -7 13.8Q-9.6 9 -8.8 4.5Q-8 1 -6 0Z" fill="url(#gNoz)" stroke="#161616" stroke-width="0.7"/>
<path d="M-5.6 1.6H5.6" stroke="#111" stroke-width="1.4"/>
<path d="M-5 5Q-6.6 9 -4.4 14" stroke="#7a7a7a" stroke-width="1.5" fill="none" opacity="0.7"/>
<path d="M4.4 5.5Q5.8 9 3.8 13.5" stroke="#6a6a6a" stroke-width="1.2" fill="none" opacity="0.6"/>
<path d="M0 19L4 24.4H-4Z" fill="#0d0d0d"/>
<path d="M-5.2 27.4L-19 43M5.2 27.4L17 42.4" stroke="#141414" stroke-width="2.7" stroke-linecap="round" stroke-dasharray="1.7 4.2" fill="none"/>
<path d="M0 28V45" stroke="#141414" stroke-width="2.7" stroke-linecap="round" stroke-dasharray="1.2 4.2" fill="none"/>
</g>
<path d="M63.7 270.3 L130.0 270.3" fill="none" stroke="#2f62a8" stroke-width="2.30" stroke-linejoin="miter" />
<path d="M64.5 270.3 L64.5 557.7 L95.0 557.7" fill="none" stroke="#2f62a8" stroke-width="2.30" stroke-linejoin="miter" />
<path d="M111.8 270.3 L111.8 306.4 L135.0 306.4" fill="none" stroke="#2f62a8" stroke-width="2.30" stroke-linejoin="miter" />
<path d="M131.8 270.5 L131.8 292.0 L352.0 292.0" fill="none" stroke="#f0934a" stroke-width="1.80" stroke-linejoin="miter" />
<path d="M445.0 292.0 L604.0 292.0" fill="none" stroke="#f0934a" stroke-width="1.80" stroke-linejoin="miter" />
<path d="M705.5 292.0 L817.0 292.0" fill="none" stroke="#f0934a" stroke-width="1.80" stroke-linejoin="miter" />
<path d="M889.0 292.0 L1028.0 292.0" fill="none" stroke="#f0934a" stroke-width="1.80" stroke-linejoin="miter" />
<path d="M149.8 320.0 L149.8 393.0" fill="none" stroke="#9a80bd" stroke-width="1.80" stroke-linejoin="miter" />
<path d="M79.0 415.4 L94.0 415.4" fill="none" stroke="#9a80bd" stroke-width="1.80" stroke-linejoin="miter" />
<path d="M185.0 414.5 L214.0 414.5 L214.0 330.2 L352.0 330.2" fill="none" stroke="#9a80bd" stroke-width="1.80" stroke-linejoin="miter" />
<path d="M445.0 323.4 L604.0 323.4" fill="none" stroke="#9a80bd" stroke-width="1.80" stroke-linejoin="miter" />
<path d="M705.5 341.6 L812.5 341.6 L812.5 319.0 L1028.0 319.0" fill="none" stroke="#9a80bd" stroke-width="1.80" stroke-linejoin="miter" />
<path d="M158.0 560.4 L175.8 560.4 L175.8 665.5 L74.5 665.5" fill="none" stroke="#9a80bd" stroke-width="1.70" stroke-linejoin="miter" />
<path d="M352.0 261.0 L294.0 261.0 L294.0 317.0 L205.9 317.0 L205.9 555.8" fill="none" stroke="#1c1c1c" stroke-width="2.10" stroke-linejoin="miter" />
<path d="M352.0 269.2 L308.0 269.2 L308.0 336.6 L262.6 336.6 L262.6 379.5" fill="none" stroke="#1c1c1c" stroke-width="2.10" stroke-linejoin="miter" />
<path d="M352.0 276.2 L322.7 276.2 L322.7 343.0 L298.4 343.0 L298.4 380.0" fill="none" stroke="#1c1c1c" stroke-width="2.10" stroke-linejoin="miter" />
<path d="M352.0 314.4 L334.0 314.4 L334.0 343.0 L363.4 343.0 L363.4 382.0" fill="none" stroke="#1c1c1c" stroke-width="2.10" stroke-linejoin="miter" />
<path d="M445.0 261.0 L474.0 261.0" fill="none" stroke="#1c1c1c" stroke-width="2.10" stroke-linejoin="miter" />
<path d="M445.0 276.2 L454.8 276.2 L454.8 315.8 L485.0 315.8" fill="none" stroke="#1c1c1c" stroke-width="2.10" stroke-linejoin="miter" />
<path d="M445.0 329.8 L452.8 329.8 L452.8 377.3 L428.0 377.3" fill="none" stroke="#1c1c1c" stroke-width="2.10" stroke-linejoin="miter" />
<path d="M604.0 266.1 L524.5 266.1 L524.5 384.0" fill="none" stroke="#1c1c1c" stroke-width="2.10" stroke-linejoin="miter" />
<path d="M604.0 275.0 L578.2 275.0 L578.2 365.2 L633.5 365.2" fill="none" stroke="#1c1c1c" stroke-width="2.10" stroke-linejoin="miter" />
<path d="M604.0 313.4 L587.2 313.4 L587.2 380.0" fill="none" stroke="#1c1c1c" stroke-width="2.10" stroke-linejoin="miter" />
<path d="M705.5 325.1 L719.0 325.1 L719.0 379.5" fill="none" stroke="#1c1c1c" stroke-width="2.10" stroke-linejoin="miter" />
<path d="M825.5 266.1 L786.8 266.1 L786.8 382.0" fill="none" stroke="#1c1c1c" stroke-width="2.10" stroke-linejoin="miter" />
<path d="M808.6 314.4 L769.2 314.4 L769.2 380.0" fill="none" stroke="#1c1c1c" stroke-width="2.10" stroke-linejoin="miter" />
<path d="M1028.0 264.3 L934.0 264.3 L934.0 379.0" fill="none" stroke="#1c1c1c" stroke-width="2.10" stroke-linejoin="miter" />
<path d="M1028.0 271.6 L1009.3 271.6 L1009.3 347.2 L1032.0 347.2 L1032.0 375.5" fill="none" stroke="#1c1c1c" stroke-width="2.10" stroke-linejoin="miter" />
<path d="M1028.0 307.8 L997.6 307.8 L997.6 371.0" fill="none" stroke="#1c1c1c" stroke-width="2.10" stroke-linejoin="miter" />
<path d="M1122.0 261.8 L1204.4 261.8 L1204.4 377.0" fill="none" stroke="#1c1c1c" stroke-width="2.10" stroke-linejoin="miter" />
<path d="M1122.0 273.4 L1240.3 273.4 L1240.3 363.0" fill="none" stroke="#1c1c1c" stroke-width="2.10" stroke-linejoin="miter" />
<path d="M1122.0 308.4 L1173.0 308.4 L1173.0 371.0" fill="none" stroke="#1c1c1c" stroke-width="2.10" stroke-linejoin="miter" />
<path d="M1122.0 319.3 L1133.4 319.3 L1133.4 372.0 L1116.4 372.0" fill="none" stroke="#1c1c1c" stroke-width="2.10" stroke-linejoin="miter" />
<path d="M158.9 555.8 L176.6 555.8 L176.6 530.6 L1248.0 530.6" fill="none" stroke="#cf2a34" stroke-width="1.70" stroke-linejoin="miter" />
<rect x="351.8" y="251.6" width="93.6" height="86.9" fill="#dcdcdc"/>
<rect x="364.0" y="267.2" width="3" height="5.9" rx="1" fill="#c3c7cc" stroke="#8c9198" stroke-width="0.5"/>
<rect x="429.1" y="267.2" width="3" height="5.9" rx="1" fill="#c3c7cc" stroke="#8c9198" stroke-width="0.5"/>
<rect x="364.0" y="285.0" width="3" height="5.9" rx="1" fill="#c3c7cc" stroke="#8c9198" stroke-width="0.5"/>
<rect x="429.1" y="285.0" width="3" height="5.9" rx="1" fill="#c3c7cc" stroke="#8c9198" stroke-width="0.5"/>
<rect x="366.6" y="255.3" width="62.9" height="54.0" fill="#2b8de0"/>
<rect x="367.1" y="255.8" width="61.9" height="53.0" fill="none" stroke="#2279c8" stroke-width="1"/>
<circle cx="372.9" cy="258.0" r="0.9" fill="#d6e6f6"/>
<circle cx="398.1" cy="258.0" r="0.9" fill="#d6e6f6"/>
<circle cx="422.0" cy="258.5" r="0.9" fill="#d6e6f6"/>
<circle cx="369.7" cy="281.8" r="0.9" fill="#d6e6f6"/>
<circle cx="425.7" cy="282.3" r="0.9" fill="#d6e6f6"/>
<circle cx="372.9" cy="306.6" r="0.9" fill="#d6e6f6"/>
<circle cx="398.1" cy="307.1" r="0.9" fill="#d6e6f6"/>
<circle cx="422.0" cy="306.6" r="0.9" fill="#d6e6f6"/>
<rect x="389.3" y="270.2" width="16.7" height="6.6" fill="#1d3f86"/>
<rect x="390.3" y="271.2" width="14.7" height="4.6" fill="#3a5aa6"/>
<rect x="386.7" y="288.0" width="22.3" height="9.3" fill="#cdb98a"/>
<rect x="387.7" y="289.0" width="13.8" height="7.3" fill="#2a241c"/>
<rect x="391.6" y="291.3" width="6.7" height="2.8" fill="#d6a64a"/>
<rect x="401.9" y="292.6" width="5.8" height="2.8" fill="#8c7a4e"/>
<rect x="378.0" y="321.6" width="9.2" height="7.1" fill="#e4d27a"/>
<rect x="378.9" y="320.8" width="6.7" height="2.4" fill="#6e6432"/>
<rect x="407.4" y="321.6" width="9.2" height="7.1" fill="#e4d27a"/>
<rect x="408.3" y="320.8" width="6.7" height="2.4" fill="#6e6432"/>
<rect x="388.9" y="316.8" width="16.8" height="16.2" fill="#b9bec4"/>
<rect x="391.5" y="320.0" width="11.8" height="5.9" fill="#eceef0"/>
<rect x="393.1" y="327.1" width="8.4" height="3.2" fill="#5c6066"/>
<rect x="391.5" y="314.1" width="4.2" height="4.0" fill="#3c3f44"/>
<rect x="399.0" y="314.1" width="4.2" height="4.0" fill="#3c3f44"/>
<rect x="371.1" y="313.1" width="52.4" height="21.8" rx="3" fill="none" stroke="#24a82a" stroke-width="2.9"/>
<rect x="603.7" y="255.2" width="101.9" height="87.4" fill="#dcdcdc"/>
<rect x="617.4" y="271.6" width="3" height="5.9" rx="1" fill="#c3c7cc" stroke="#8c9198" stroke-width="0.5"/>
<rect x="687.2" y="271.6" width="3" height="5.9" rx="1" fill="#c3c7cc" stroke="#8c9198" stroke-width="0.5"/>
<rect x="617.4" y="289.3" width="3" height="5.9" rx="1" fill="#c3c7cc" stroke="#8c9198" stroke-width="0.5"/>
<rect x="687.2" y="289.3" width="3" height="5.9" rx="1" fill="#c3c7cc" stroke="#8c9198" stroke-width="0.5"/>
<rect x="620.0" y="259.8" width="67.6" height="53.6" fill="#2b8de0"/>
<rect x="620.5" y="260.3" width="66.6" height="52.6" fill="none" stroke="#2279c8" stroke-width="1"/>
<circle cx="626.8" cy="262.5" r="0.9" fill="#d6e6f6"/>
<circle cx="653.8" cy="262.5" r="0.9" fill="#d6e6f6"/>
<circle cx="679.5" cy="263.0" r="0.9" fill="#d6e6f6"/>
<circle cx="623.4" cy="286.1" r="0.9" fill="#d6e6f6"/>
<circle cx="683.5" cy="286.6" r="0.9" fill="#d6e6f6"/>
<circle cx="626.8" cy="310.7" r="0.9" fill="#d6e6f6"/>
<circle cx="653.8" cy="311.3" r="0.9" fill="#d6e6f6"/>
<circle cx="679.5" cy="310.7" r="0.9" fill="#d6e6f6"/>
<rect x="644.5" y="274.3" width="18.7" height="6.5" fill="#1d3f86"/>
<rect x="645.5" y="275.3" width="16.7" height="4.5" fill="#3a5aa6"/>
<rect x="642.2" y="291.8" width="24.5" height="9.2" fill="#cdb98a"/>
<rect x="643.2" y="292.8" width="15.2" height="7.2" fill="#2a241c"/>
<rect x="647.6" y="295.0" width="7.3" height="2.8" fill="#d6a64a"/>
<rect x="658.9" y="296.4" width="6.4" height="2.8" fill="#8c7a4e"/>
<rect x="635.0" y="326.2" width="8.9" height="7.0" fill="#e4d27a"/>
<rect x="635.8" y="325.4" width="6.4" height="2.3" fill="#6e6432"/>
<rect x="663.2" y="326.2" width="8.9" height="7.0" fill="#e4d27a"/>
<rect x="664.0" y="325.4" width="6.4" height="2.3" fill="#6e6432"/>
<rect x="645.4" y="321.5" width="16.1" height="15.9" fill="#b9bec4"/>
<rect x="647.9" y="324.6" width="11.3" height="5.8" fill="#eceef0"/>
<rect x="649.5" y="331.6" width="8.1" height="3.1" fill="#5c6066"/>
<rect x="647.9" y="318.8" width="4.0" height="3.9" fill="#3c3f44"/>
<rect x="655.1" y="318.8" width="4.0" height="3.9" fill="#3c3f44"/>
<rect x="628.5" y="317.8" width="50.1" height="21.3" rx="3" fill="none" stroke="#24a82a" stroke-width="2.9"/>
<rect x="816.7" y="270.8" width="72.3" height="45.4" fill="#dcdcdc"/>
<rect x="826.3" y="280.0" width="3" height="2.8" rx="1" fill="#c3c7cc" stroke="#8c9198" stroke-width="0.5"/>
<rect x="876.2" y="280.0" width="3" height="2.8" rx="1" fill="#c3c7cc" stroke="#8c9198" stroke-width="0.5"/>
<rect x="826.3" y="288.4" width="3" height="2.8" rx="1" fill="#c3c7cc" stroke="#8c9198" stroke-width="0.5"/>
<rect x="876.2" y="288.4" width="3" height="2.8" rx="1" fill="#c3c7cc" stroke="#8c9198" stroke-width="0.5"/>
<rect x="828.9" y="274.3" width="47.7" height="25.7" fill="#2b8de0"/>
<rect x="829.4" y="274.8" width="46.7" height="24.7" fill="none" stroke="#2279c8" stroke-width="1"/>
<circle cx="833.7" cy="275.6" r="0.9" fill="#d6e6f6"/>
<circle cx="852.8" cy="275.6" r="0.9" fill="#d6e6f6"/>
<circle cx="870.9" cy="275.8" r="0.9" fill="#d6e6f6"/>
<circle cx="831.3" cy="286.9" r="0.9" fill="#d6e6f6"/>
<circle cx="873.7" cy="287.1" r="0.9" fill="#d6e6f6"/>
<circle cx="833.7" cy="298.7" r="0.9" fill="#d6e6f6"/>
<circle cx="852.8" cy="299.0" r="0.9" fill="#d6e6f6"/>
<circle cx="870.9" cy="298.7" r="0.9" fill="#d6e6f6"/>
<rect x="844.2" y="280.0" width="13.8" height="5.5" fill="#1d3f86"/>
<rect x="845.2" y="281.0" width="11.8" height="3.5" fill="#3a5aa6"/>
<rect x="842.4" y="290.0" width="19.8" height="5.7" fill="#cdb98a"/>
<rect x="843.4" y="291.0" width="12.3" height="3.7" fill="#2a241c"/>
<rect x="846.8" y="292.0" width="5.9" height="1.7" fill="#d6a64a"/>
<rect x="855.9" y="292.9" width="5.1" height="1.7" fill="#8c7a4e"/>
<rect x="837.3" y="304.5" width="7.0" height="4.2" fill="#e4d27a"/>
<rect x="837.9" y="304.0" width="5.1" height="1.4" fill="#6e6432"/>
<rect x="859.7" y="304.5" width="7.0" height="4.2" fill="#e4d27a"/>
<rect x="860.3" y="304.0" width="5.1" height="1.4" fill="#6e6432"/>
<rect x="845.6" y="301.7" width="12.8" height="9.7" fill="#b9bec4"/>
<rect x="847.5" y="303.5" width="9.0" height="3.5" fill="#eceef0"/>
<rect x="848.8" y="307.8" width="6.4" height="1.9" fill="#5c6066"/>
<rect x="847.5" y="300.0" width="3.2" height="2.4" fill="#3c3f44"/>
<rect x="853.3" y="300.0" width="3.2" height="2.4" fill="#3c3f44"/>
<rect x="1027.7" y="247.8" width="94.6" height="87.9" fill="#dcdcdc"/>
<rect x="1040.9" y="265.1" width="3" height="6.0" rx="1" fill="#c3c7cc" stroke="#8c9198" stroke-width="0.5"/>
<rect x="1104.9" y="265.1" width="3" height="6.0" rx="1" fill="#c3c7cc" stroke="#8c9198" stroke-width="0.5"/>
<rect x="1040.9" y="283.1" width="3" height="6.0" rx="1" fill="#c3c7cc" stroke="#8c9198" stroke-width="0.5"/>
<rect x="1104.9" y="283.1" width="3" height="6.0" rx="1" fill="#c3c7cc" stroke="#8c9198" stroke-width="0.5"/>
<rect x="1043.5" y="253.0" width="61.8" height="54.8" fill="#2b8de0"/>
<rect x="1044.0" y="253.5" width="60.8" height="53.8" fill="none" stroke="#2279c8" stroke-width="1"/>
<circle cx="1049.7" cy="255.7" r="0.9" fill="#d6e6f6"/>
<circle cx="1074.4" cy="255.7" r="0.9" fill="#d6e6f6"/>
<circle cx="1097.9" cy="256.3" r="0.9" fill="#d6e6f6"/>
<circle cx="1046.6" cy="279.9" r="0.9" fill="#d6e6f6"/>
<circle cx="1101.6" cy="280.4" r="0.9" fill="#d6e6f6"/>
<circle cx="1049.7" cy="305.1" r="0.9" fill="#d6e6f6"/>
<circle cx="1074.4" cy="305.6" r="0.9" fill="#d6e6f6"/>
<circle cx="1097.9" cy="305.1" r="0.9" fill="#d6e6f6"/>
<rect x="1065.7" y="268.1" width="16.8" height="6.6" fill="#1d3f86"/>
<rect x="1066.7" y="269.1" width="14.8" height="4.6" fill="#3a5aa6"/>
<rect x="1062.7" y="286.0" width="23.3" height="9.6" fill="#cdb98a"/>
<rect x="1063.7" y="287.0" width="14.4" height="7.6" fill="#2a241c"/>
<rect x="1067.8" y="289.4" width="7.0" height="2.9" fill="#d6a64a"/>
<rect x="1078.5" y="290.8" width="6.1" height="2.9" fill="#8c7a4e"/>
<rect x="1057.2" y="319.2" width="8.6" height="6.5" fill="#e4d27a"/>
<rect x="1057.9" y="318.4" width="6.3" height="2.2" fill="#6e6432"/>
<rect x="1084.6" y="319.2" width="8.6" height="6.5" fill="#e4d27a"/>
<rect x="1085.4" y="318.4" width="6.3" height="2.2" fill="#6e6432"/>
<rect x="1067.4" y="314.8" width="15.7" height="14.9" fill="#b9bec4"/>
<rect x="1069.7" y="317.7" width="11.0" height="5.4" fill="#eceef0"/>
<rect x="1071.3" y="324.3" width="7.8" height="2.9" fill="#5c6066"/>
<rect x="1069.7" y="312.3" width="3.9" height="3.6" fill="#3c3f44"/>
<rect x="1076.8" y="312.3" width="3.9" height="3.6" fill="#3c3f44"/>
<rect x="1050.9" y="311.4" width="48.7" height="19.8" rx="3" fill="none" stroke="#24a82a" stroke-width="2.9"/>
<ellipse cx="839.3" cy="266.1" rx="5.2" ry="4.7" fill="#0f0f0f"/>
<ellipse cx="854.7" cy="266.1" rx="5.2" ry="4.7" fill="#0f0f0f"/>
<ellipse cx="870.8" cy="266.1" rx="5.2" ry="4.7" fill="#0f0f0f"/>
<ellipse cx="843.6" cy="392.0" rx="5.2" ry="4.7" fill="#0f0f0f"/>
<ellipse cx="858.8" cy="392.0" rx="5.2" ry="4.7" fill="#0f0f0f"/>
<ellipse cx="874.2" cy="392.0" rx="5.2" ry="4.7" fill="#0f0f0f"/>
<path d="M267.2 372.4L267.2 380.5" stroke="#2a82dc" stroke-width="2.8" stroke-linecap="round"/>
<path d="M246.6 395.5 Q246.6 391.0 251.2 390.6 L283.2 390.6 Q287.8 391.0 287.8 395.5 Q287.2 399.7 267.2 400.2 Q247.2 399.7 246.6 395.5 Z" fill="#1f74d0"/>
<path d="M258.6 398.0 L261.7 406.5 Q262.6 410.0 267.2 410.0 Q271.8 410.0 272.7 406.5 L275.8 398.0 Z" fill="#1d6cc6"/>
<ellipse cx="265.8" cy="402.0" rx="3.5" ry="3.1" fill="#fff"/>
<path d="M249.9 382.0 Q249.9 379.4 254.2 379.4 L280.2 379.4 Q284.5 379.4 284.5 382.0 L284.8 392.6 Q267.2 394.4 249.6 392.6 Z" fill="url(#gSmoke)"/>
<rect x="256.2" y="382.3" width="22.0" height="7.8" rx="1.2" fill="#2c2620"/>
<rect x="257.2" y="383.4" width="19.4" height="4.4" fill="#d8c8a0"/>
<rect x="263.2" y="383.4" width="7.0" height="4.4" fill="#a9854a"/>
<rect x="271.7" y="383.8" width="3.6" height="3.6" fill="#f0e6c8"/>
<path d="M247.8 393.6 Q267.2 395.6 286.6 393.6" stroke="#58a6ee" stroke-width="1" fill="none"/>
<path d="M526.6 376.8L526.6 384.9" stroke="#2a82dc" stroke-width="2.8" stroke-linecap="round"/>
<path d="M506.0 399.9 Q506.0 395.4 510.6 395.0 L542.6 395.0 Q547.2 395.4 547.2 399.9 Q546.6 404.1 526.6 404.6 Q506.6 404.1 506.0 399.9 Z" fill="#1f74d0"/>
<path d="M518.0 402.4 L521.1 410.9 Q522.0 414.4 526.6 414.4 Q531.2 414.4 532.1 410.9 L535.2 402.4 Z" fill="#1d6cc6"/>
<ellipse cx="525.2" cy="406.4" rx="3.5" ry="3.1" fill="#fff"/>
<path d="M509.3 386.4 Q509.3 383.8 513.6 383.8 L539.6 383.8 Q543.9 383.8 543.9 386.4 L544.2 397.0 Q526.6 398.8 509.0 397.0 Z" fill="url(#gSmoke)"/>
<rect x="515.6" y="386.7" width="22.0" height="7.8" rx="1.2" fill="#2c2620"/>
<rect x="516.6" y="387.8" width="19.4" height="4.4" fill="#d8c8a0"/>
<rect x="522.6" y="387.8" width="7.0" height="4.4" fill="#a9854a"/>
<rect x="531.1" y="388.2" width="3.6" height="3.6" fill="#f0e6c8"/>
<path d="M507.2 398.0 Q526.6 400.0 546.0 398.0" stroke="#58a6ee" stroke-width="1" fill="none"/>
<path d="M803.3 374.4L803.3 382.4" stroke="#2a82dc" stroke-width="2.8" stroke-linecap="round"/>
<path d="M782.7 397.2 Q782.7 392.7 787.3 392.3 L819.3 392.3 Q823.9 392.7 823.9 397.2 Q823.3 401.3 803.3 401.8 Q783.3 401.3 782.7 397.2 Z" fill="#1f74d0"/>
<path d="M794.7 399.7 L797.8 408.0 Q798.7 411.5 803.3 411.5 Q807.9 411.5 808.8 408.0 L811.9 399.7 Z" fill="#1d6cc6"/>
<ellipse cx="801.9" cy="403.6" rx="3.5" ry="3.1" fill="#fff"/>
<path d="M786.0 383.9 Q786.0 381.3 790.3 381.3 L816.3 381.3 Q820.6 381.3 820.6 383.9 L820.9 394.3 Q803.3 396.1 785.7 394.3 Z" fill="url(#gSmoke)"/>
<rect x="792.3" y="384.2" width="22.0" height="7.7" rx="1.2" fill="#2c2620"/>
<rect x="793.3" y="385.2" width="19.4" height="4.3" fill="#d8c8a0"/>
<rect x="799.3" y="385.2" width="7.0" height="4.3" fill="#a9854a"/>
<rect x="807.8" y="385.6" width="3.6" height="3.6" fill="#f0e6c8"/>
<path d="M783.9 395.3 Q803.3 397.3 822.7 395.3" stroke="#58a6ee" stroke-width="1" fill="none"/>
<path d="M935.4 372.9L935.4 380.5" stroke="#2a82dc" stroke-width="2.8" stroke-linecap="round"/>
<path d="M914.8 394.5 Q914.8 390.3 919.4 389.9 L951.4 389.9 Q956.0 390.3 956.0 394.5 Q955.4 398.5 935.4 398.9 Q915.4 398.5 914.8 394.5 Z" fill="#1f74d0"/>
<path d="M926.8 396.9 L929.9 404.8 Q930.8 408.1 935.4 408.1 Q940.0 408.1 940.9 404.8 L944.0 396.9 Z" fill="#1d6cc6"/>
<ellipse cx="934.0" cy="400.6" rx="3.5" ry="2.9" fill="#fff"/>
<path d="M918.1 381.9 Q918.1 379.5 922.4 379.5 L948.4 379.5 Q952.7 379.5 952.7 381.9 L953.0 391.8 Q935.4 393.5 917.8 391.8 Z" fill="url(#gSmoke)"/>
<rect x="924.4" y="382.2" width="22.0" height="7.3" rx="1.2" fill="#2c2620"/>
<rect x="925.4" y="383.2" width="19.4" height="4.1" fill="#d8c8a0"/>
<rect x="931.4" y="383.2" width="7.0" height="4.1" fill="#a9854a"/>
<rect x="939.9" y="383.6" width="3.6" height="3.4" fill="#f0e6c8"/>
<path d="M916.0 392.8 Q935.4 394.6 954.8 392.8" stroke="#58a6ee" stroke-width="1" fill="none"/>
<path d="M1202.0 370.8L1202.0 378.0" stroke="#2a82dc" stroke-width="2.5" stroke-linecap="round"/>
<path d="M1183.6 391.3 Q1183.6 387.3 1187.7 386.9 L1216.3 386.9 Q1220.4 387.3 1220.4 391.3 Q1219.9 395.0 1202.0 395.4 Q1184.1 395.0 1183.6 391.3 Z" fill="#1f74d0"/>
<path d="M1194.3 393.5 L1197.1 401.0 Q1197.9 404.1 1202.0 404.1 Q1206.1 404.1 1206.9 401.0 L1209.7 393.5 Z" fill="#1d6cc6"/>
<ellipse cx="1200.7" cy="397.0" rx="3.1" ry="2.7" fill="#fff"/>
<path d="M1186.5 379.3 Q1186.5 377.0 1190.4 377.0 L1213.6 377.0 Q1217.5 377.0 1217.5 379.3 L1217.7 388.7 Q1202.0 390.3 1186.3 388.7 Z" fill="url(#gSmoke)"/>
<rect x="1192.2" y="379.6" width="19.7" height="6.9" rx="1.2" fill="#2c2620"/>
<rect x="1193.1" y="380.6" width="17.3" height="3.9" fill="#d8c8a0"/>
<rect x="1198.4" y="380.6" width="6.3" height="3.9" fill="#a9854a"/>
<rect x="1206.0" y="380.9" width="3.2" height="3.2" fill="#f0e6c8"/>
<path d="M1184.7 389.6 Q1202.0 391.4 1219.3 389.6" stroke="#58a6ee" stroke-width="1" fill="none"/>
<rect x="306.5" y="357.5" width="5" height="19.9" fill="#b8bcc0"/>
<rect x="305.2" y="364.5" width="7.6" height="6" fill="#9a9ea4"/>
<path d="M305.2 366.5h7.6M305.2 369.0h7.6" stroke="#6c7076" stroke-width="0.7"/>
<path d="M318.0 375.9 A12.8 12.8 0 0 1 323.2 392.0" stroke="#2a2a2a" stroke-width="1.6" fill="none"/>
<circle cx="310.6" cy="386.2" r="12.5" fill="url(#gDial)" stroke="#9aa0a6" stroke-width="0.8"/>
<circle cx="310.0" cy="386.7" r="8.4" fill="none" stroke="#a4aab0" stroke-width="0.8"/>
<rect x="306.0" y="383.2" width="7" height="8" fill="#b4b8bc" opacity="0.8"/>
<rect x="630.5" y="358.5" width="5" height="18.1" fill="#b8bcc0"/>
<rect x="629.2" y="365.5" width="7.6" height="6" fill="#9a9ea4"/>
<path d="M629.2 367.5h7.6M629.2 370.0h7.6" stroke="#6c7076" stroke-width="0.7"/>
<path d="M642.3 375.1 A12.8 12.8 0 0 1 647.5 391.2" stroke="#2a2a2a" stroke-width="1.6" fill="none"/>
<circle cx="634.9" cy="385.4" r="12.5" fill="url(#gDial)" stroke="#9aa0a6" stroke-width="0.8"/>
<circle cx="634.3" cy="385.9" r="8.4" fill="none" stroke="#a4aab0" stroke-width="0.8"/>
<rect x="630.3" y="382.4" width="7" height="8" fill="#b4b8bc" opacity="0.8"/>
<rect x="1038.3" y="357.5" width="5" height="18.7" fill="#b8bcc0"/>
<rect x="1037.0" y="364.5" width="7.6" height="6" fill="#9a9ea4"/>
<path d="M1037.0 366.5h7.6M1037.0 369.0h7.6" stroke="#6c7076" stroke-width="0.7"/>
<path d="M1050.0 374.7 A12.8 12.8 0 0 1 1055.2 390.8" stroke="#2a2a2a" stroke-width="1.6" fill="none"/>
<circle cx="1042.6" cy="385.0" r="12.5" fill="url(#gDial)" stroke="#9aa0a6" stroke-width="0.8"/>
<circle cx="1042.0" cy="385.5" r="8.4" fill="none" stroke="#a4aab0" stroke-width="0.8"/>
<rect x="1038.0" y="382.0" width="7" height="8" fill="#b4b8bc" opacity="0.8"/>
<rect x="336.1" y="376.1" width="11.4" height="28.4" fill="#fff"/>
<path d="M337.0 382.6 h11.0 v3.9 l3.4 1.2 v8.2 l-3.4 1.6 v4.7 h-11.0 v-3.1 l-1.4 -1 v-12.0 l1.4 -1 z" fill="url(#gBrass)" stroke="#b8915a" stroke-width="0.5"/>
<path d="M338.4 386.5 q1.8 7.8 9.5 9.7" stroke="#c49a5c" stroke-width="1.3" fill="none"/>
<path d="M337.9 383.8 h9.5" stroke="#fbeccb" stroke-width="1.2"/>
<rect x="351.0" y="386.3" width="22.0" height="9.8" rx="1" fill="#d9b778"/>
<rect x="351.0" y="386.3" width="17.6" height="2.8" fill="#3a3a3a"/>
<rect x="351.5" y="389.3" width="5.7" height="6.1" fill="#e8e4dc"/>
<rect x="357.2" y="389.3" width="7.9" height="6.1" fill="#ee9a30"/>
<rect x="360.3" y="390.7" width="1.8" height="2.9" fill="#d8402a"/>
<rect x="360.7" y="378.6" width="5.3" height="8.0" fill="#ece6d6" stroke="#b9ab86" stroke-width="0.4"/>
<rect x="559.1" y="376.5" width="11.0" height="32.0" fill="#fff"/>
<path d="M559.5 383.6 h11.0 v4.5 l3.4 1.2 v9.4 l-3.4 1.6 v5.4 h-11.0 v-3.6 l-1.4 -1 v-13.9 l1.4 -1 z" fill="url(#gBrass)" stroke="#b8915a" stroke-width="0.5"/>
<path d="M560.9 388.1 q1.8 9.0 9.6 11.2" stroke="#c49a5c" stroke-width="1.3" fill="none"/>
<path d="M560.4 384.8 h9.6" stroke="#fbeccb" stroke-width="1.2"/>
<rect x="573.6" y="387.9" width="22.1" height="11.3" rx="1" fill="#d9b778"/>
<rect x="573.6" y="387.9" width="17.7" height="3.2" fill="#3a3a3a"/>
<rect x="574.1" y="391.3" width="5.7" height="7.0" fill="#e8e4dc"/>
<rect x="579.8" y="391.3" width="7.9" height="7.0" fill="#ee9a30"/>
<rect x="582.9" y="393.0" width="1.8" height="3.4" fill="#d8402a"/>
<rect x="583.3" y="379.0" width="5.3" height="9.2" fill="#ece6d6" stroke="#b9ab86" stroke-width="0.4"/>
<rect x="741.1" y="376.5" width="11.3" height="32.0" fill="#fff"/>
<path d="M741.5 383.6 h11.0 v4.5 l3.4 1.2 v9.4 l-3.4 1.6 v5.4 h-11.0 v-3.6 l-1.4 -1 v-13.9 l1.4 -1 z" fill="url(#gBrass)" stroke="#b8915a" stroke-width="0.5"/>
<path d="M742.9 388.1 q1.8 9.0 9.6 11.2" stroke="#c49a5c" stroke-width="1.3" fill="none"/>
<path d="M742.4 384.8 h9.6" stroke="#fbeccb" stroke-width="1.2"/>
<rect x="755.6" y="387.9" width="22.1" height="11.3" rx="1" fill="#d9b778"/>
<rect x="755.6" y="387.9" width="17.7" height="3.2" fill="#3a3a3a"/>
<rect x="756.1" y="391.3" width="5.7" height="7.0" fill="#e8e4dc"/>
<rect x="761.8" y="391.3" width="7.9" height="7.0" fill="#ee9a30"/>
<rect x="764.9" y="393.0" width="1.8" height="3.4" fill="#d8402a"/>
<rect x="765.3" y="379.0" width="5.3" height="9.2" fill="#ece6d6" stroke="#b9ab86" stroke-width="0.4"/>
<rect x="969.5" y="368.9" width="10.8" height="32.6" fill="#fff"/>
<path d="M970.6 376.1 h11.5 v4.6 l3.4 1.2 v9.6 l-3.4 1.6 v5.5 h-11.5 v-3.7 l-1.4 -1 v-14.2 l1.4 -1 z" fill="url(#gBrass)" stroke="#b8915a" stroke-width="0.5"/>
<path d="M972.0 380.7 q1.9 9.2 10.0 11.5" stroke="#c49a5c" stroke-width="1.3" fill="none"/>
<path d="M971.5 377.3 h10.0" stroke="#fbeccb" stroke-width="1.2"/>
<rect x="985.4" y="380.5" width="23.1" height="11.6" rx="1" fill="#d9b778"/>
<rect x="985.4" y="380.5" width="18.5" height="3.2" fill="#3a3a3a"/>
<rect x="985.9" y="384.0" width="6.0" height="7.2" fill="#e8e4dc"/>
<rect x="991.9" y="384.0" width="8.3" height="7.2" fill="#ee9a30"/>
<rect x="995.1" y="385.7" width="1.8" height="3.5" fill="#d8402a"/>
<rect x="995.6" y="371.4" width="5.5" height="9.4" fill="#ece6d6" stroke="#b9ab86" stroke-width="0.4"/>
<rect x="1144.5" y="369.5" width="11.4" height="32.0" fill="#fff"/>
<path d="M1146.0 376.6 h10.7 v4.5 l3.4 1.2 v9.4 l-3.4 1.6 v5.4 h-10.7 v-3.6 l-1.4 -1 v-13.9 l1.4 -1 z" fill="url(#gBrass)" stroke="#b8915a" stroke-width="0.5"/>
<path d="M1147.4 381.1 q1.8 9.0 9.3 11.2" stroke="#c49a5c" stroke-width="1.3" fill="none"/>
<path d="M1146.9 377.8 h9.3" stroke="#fbeccb" stroke-width="1.2"/>
<rect x="1159.6" y="380.9" width="21.4" height="11.3" rx="1" fill="#d9b778"/>
<rect x="1159.6" y="380.9" width="17.1" height="3.2" fill="#3a3a3a"/>
<rect x="1160.1" y="384.3" width="5.6" height="7.0" fill="#e8e4dc"/>
<rect x="1165.6" y="384.3" width="7.7" height="7.0" fill="#ee9a30"/>
<rect x="1168.6" y="386.0" width="1.7" height="3.4" fill="#d8402a"/>
<rect x="1169.0" y="372.0" width="5.1" height="9.2" fill="#ece6d6" stroke="#b9ab86" stroke-width="0.4"/>
<path d="M400.3 371.9 h28.7 l-3 3 v9.9 h-22.7 v-9.9 z" fill="#2a3f86"/>
<path d="M397.8 377.6h33.7" stroke="#1e2e66" stroke-width="1.2"/>
<circle cx="391.9" cy="382.6" r="1.1" fill="#fff" stroke="#44508a" stroke-width="0.6"/>
<circle cx="435.4" cy="382.6" r="1.1" fill="#fff" stroke="#44508a" stroke-width="0.6"/>
<rect x="386.4" y="383.8" width="54.5" height="19.8" fill="#2b418c"/>
<rect x="389.2" y="386.2" width="48.9" height="14.8" fill="#b3b4ba"/>
<path d="M400.0 390.6h30.3" stroke="#e2484e" stroke-width="3.0" stroke-dasharray="4.2 4.2" opacity="0.9"/>
<path d="M400.0 396.9h30.3" stroke="#e2484e" stroke-width="3.0" stroke-dasharray="4.2 4.2" opacity="0.9"/>
<path d="M680.5 372.2 h33.3 l-3 3 v10.7 h-27.3 v-10.7 z" fill="#2a3f86"/>
<path d="M678.0 378.3h38.3" stroke="#1e2e66" stroke-width="1.2"/>
<circle cx="671.6" cy="383.0" r="1.1" fill="#fff" stroke="#44508a" stroke-width="0.6"/>
<circle cx="722.6" cy="383.0" r="1.1" fill="#fff" stroke="#44508a" stroke-width="0.6"/>
<rect x="666.1" y="384.2" width="62.0" height="24.0" fill="#2b418c"/>
<rect x="668.9" y="386.6" width="56.4" height="19.0" fill="#b3b4ba"/>
<path d="M681.3 392.3h35.0" stroke="#e2484e" stroke-width="3.8" stroke-dasharray="4.2 4.2" opacity="0.9"/>
<path d="M681.3 400.3h35.0" stroke="#e2484e" stroke-width="3.8" stroke-dasharray="4.2 4.2" opacity="0.9"/>
<path d="M1083.6 365.0 h33.8 l-3 3 v8.0 h-27.8 v-8.0 z" fill="#2a3f86"/>
<path d="M1081.1 369.8h38.8" stroke="#1e2e66" stroke-width="1.2"/>
<circle cx="1074.7" cy="374.4" r="1.1" fill="#fff" stroke="#44508a" stroke-width="0.6"/>
<circle cx="1125.9" cy="374.4" r="1.1" fill="#fff" stroke="#44508a" stroke-width="0.6"/>
<rect x="1069.2" y="375.6" width="62.2" height="24.4" fill="#2b418c"/>
<rect x="1072.0" y="378.0" width="56.6" height="19.4" fill="#b3b4ba"/>
<path d="M1084.5 383.8h35.1" stroke="#e2484e" stroke-width="3.9" stroke-dasharray="4.2 4.2" opacity="0.9"/>
<path d="M1084.5 392.0h35.1" stroke="#e2484e" stroke-width="3.9" stroke-dasharray="4.2 4.2" opacity="0.9"/>
<path d="M483.6 270 h25 v11 q0 5 -12.5 5 q-12.5 0 -12.5 -5 z" fill="url(#gFlame)"/>
<path d="M484 276.5 q12 3 24.2 0 M484 280.5 q12 3 24.2 0" stroke="#222" stroke-width="0.9" fill="none"/>
<ellipse cx="495.8" cy="266.8" rx="21.4" ry="5.6" fill="#e9eaec" stroke="#a9adb2" stroke-width="0.8"/>
<path d="M486 266 q0 -7.5 9.8 -7.5 q9.8 0 9.8 7.5 z" fill="#f4f4f5" stroke="#c4c7cb" stroke-width="0.5"/>
<ellipse cx="495.8" cy="259.2" rx="3.4" ry="2.4" fill="#c43038"/>
<circle cx="478.8" cy="267.3" r="0.8" fill="#888"/>
<circle cx="486.8" cy="268.9" r="0.8" fill="#888"/>
<circle cx="504.8" cy="268.9" r="0.8" fill="#888"/>
<circle cx="512.8" cy="267.3" r="0.8" fill="#888"/>
<g>
<path d="M485.9 305.4 v-6.5 h20.4 v5.7" fill="none" stroke="#9a9ea4" stroke-width="0.9"/>
<rect x="483.0" y="304.3" width="24.0" height="29.6" rx="1.5" fill="#d7dadd" stroke="#9ea3a9" stroke-width="0.8"/>
<rect x="490.2" y="302.7" width="9.6" height="2.7" rx="1" fill="#c64048"/>
<rect x="486.8" y="311.5" width="16.3" height="5.7" fill="#a0525c"/>
<rect x="486.4" y="318.7" width="17.3" height="5.3" fill="#eef0f2"/>
<rect x="485.4" y="325.2" width="19.2" height="7.6" fill="#a8adb3"/>
<circle cx="495.0" cy="329.0" r="1.6" fill="#555a60"/>
</g>
<g clip-path="url(#cpR)">
<path d="M1229.0 371.6 v-7.5 h25.2 v6.6" fill="none" stroke="#9a9ea4" stroke-width="0.9"/>
<rect x="1225.4" y="370.3" width="29.6" height="34.5" rx="1.5" fill="#d7dadd" stroke="#9ea3a9" stroke-width="0.8"/>
<rect x="1234.3" y="368.5" width="11.8" height="3.1" rx="1" fill="#c64048"/>
<rect x="1230.1" y="378.7" width="20.1" height="6.6" fill="#a0525c"/>
<rect x="1229.5" y="387.1" width="21.3" height="6.2" fill="#eef0f2"/>
<rect x="1228.4" y="394.6" width="23.7" height="8.8" fill="#a8adb3"/>
<circle cx="1240.2" cy="399.0" r="1.6" fill="#555a60"/>
</g>
<rect x="133.3" y="298.2" width="39.3" height="23.4" fill="#a0a0a0"/>
<polygon points="135,308 147,300 171,302 170,311 151,320 136,318" fill="#b4b4b0"/>
<polygon points="136,310.5 151,313 151,320 136,318" fill="#6a6a68"/>
<polygon points="147,300 171,302 168,306 149,304.5" fill="#c9c9c6"/>
<polygon points="151,313 170,305 170,311 151,320" fill="#8e8e8a"/>
<ellipse cx="147" cy="314.6" rx="3.2" ry="3" fill="#1a1a1a"/>
<rect x="144.5" y="307.4" width="5.4" height="2.8" fill="#c6c62c"/>
<rect x="155" y="299.5" width="2.8" height="4" fill="#c45ac0"/>
<rect x="93.2" y="392.1" width="91.8" height="62.3" fill="#f0f0f0"/>
<path d="M102 414.4H111M172 413.6H179" stroke="#e8743c" stroke-width="3.2" stroke-linecap="round"/>
<path d="M94 422.6H111M172 421H185" stroke="#d8342a" stroke-width="3.2" stroke-linecap="round"/>
<polygon points="114,405.2 168,405.2 173.4,418 173.4,423 168.5,431.4 115.5,431.4 109.6,423 109.6,418" fill="#d8421a"/>
<polygon points="114,405.2 168,405.2 173.4,419 170.5,423.4 112.5,423.4 109.6,419" fill="#ec5420"/>
<rect x="125.9" y="410.1" width="30.6" height="7.8" rx="3" fill="#3a2a20"/>
<rect x="133" y="411.6" width="14" height="3.4" rx="1.5" fill="#5c4c3a"/>
<circle cx="141.0" cy="406.6" r="0.7" fill="#8a2410"/>
<circle cx="141.0" cy="424.2" r="0.7" fill="#8a2410"/>
<circle cx="117.0" cy="423.0" r="0.7" fill="#8a2410"/>
<circle cx="165.0" cy="423.0" r="0.7" fill="#8a2410"/>
<polygon points="389.6,338.8 363.4,373.7 360.3,371.4 357.3,385.3 369.7,378.2 366.5,375.9 391.8,340.4" fill="#f01818"/>
<polygon points="646.1,342.4 599.1,377.1 596.7,374.0 589.8,386.4 603.7,383.2 601.3,380.1 647.7,344.6" fill="#f01818"/>
<polygon points="1059.1,336.4 1013.8,371.3 1011.4,368.2 1004.8,380.8 1018.6,377.3 1016.2,374.2 1060.7,338.4" fill="#f01818"/>
<path d="M445.0 323.4 L604.0 323.4" fill="none" stroke="#9a80bd" stroke-width="1.80" stroke-linejoin="miter" />
<rect x="261.5" y="527" width="987" height="31" fill="#c8c8c8"/>
<path d="M261.5 527H1248.5" stroke="#1e1e1e" stroke-width="2.4"/>
<path d="M261.5 557.9H1248.5" stroke="#1e1e1e" stroke-width="2.1"/>
<path d="M261.9 525.6V559" stroke="#1e1e1e" stroke-width="1.6"/>
<path d="M261 525.2H304.6M261 559.3H304.6" stroke="#2a2a2a" stroke-width="3.6"/>
<path d="M1205.7 525.9H1248.6" stroke="#2b2b55" stroke-width="4.6"/>
<path d="M1205.7 558.9H1248.6" stroke="#2b2b55" stroke-width="4.3"/>
<path d="M1248.2 523.6V561" stroke="#2b2b55" stroke-width="0.9"/>
<path d="M176.6 530.6H1248" stroke="#cf2a34" stroke-width="1.9"/>
<circle cx="205.9" cy="530.4" r="1.5" fill="#c5222c"/>
<path d="M205.9 532V555.8" stroke="#1c1c1c" stroke-width="1.9"/>
<path d="M282 512.5V525M282 560V651.5" stroke="#222" stroke-width="1.2"/>
<path d="M279.4 513.5v6.0M284.6 513.5v6.0" stroke="#c8a814" stroke-width="2"/>
<path d="M279.4 564.5v6.0M284.6 564.5v6.0" stroke="#c8a814" stroke-width="2"/>
<path d="M278.4 580.6h7.2M278.4 583.4h7.2" stroke="#222" stroke-width="1.2"/>
<path d="M331 586V653" stroke="#222" stroke-width="1.2"/>
<path d="M1227.5 512.3V524M1227.5 561V573" stroke="#222" stroke-width="1.2"/>
<path d="M1224.9 513.0v7.0M1230.1 513.0v7.0" stroke="#c8a814" stroke-width="2"/>
<path d="M1224.9 562.5v7.0M1230.1 562.5v7.0" stroke="#c8a814" stroke-width="2"/>
<rect x="237" y="597.2" width="127" height="43.2" fill="#2795dc" stroke="#16324c" stroke-width="1.4"/>
<rect x="251.4" y="609.2" width="62" height="16.2" fill="#bfe3f4" stroke="#16324c" stroke-width="1.3"/>
<rect x="312.4" y="606" width="38" height="22.6" fill="#bfe3f4" stroke="#16324c" stroke-width="1.3"/>
<path d="M282 597V641M331 597V641" stroke="#222" stroke-width="1.2"/>
<path d="M279.4 594.8v5.0M284.6 594.8v5.0" stroke="#c8a814" stroke-width="2"/>
<path d="M279.4 637.6v5.0M284.6 637.6v5.0" stroke="#c8a814" stroke-width="2"/>
<path d="M328.4 594.8v5.0M333.6 594.8v5.0" stroke="#c8a814" stroke-width="2"/>
<path d="M328.4 637.6v5.0M333.6 637.6v5.0" stroke="#c8a814" stroke-width="2"/>
<path d="M278.0 613.9l6.8 6.8M284.8 613.9l-6.8 6.8" stroke="#1a1a1a" stroke-width="1.2"/>
<path d="M326.8 613.4l6.8 6.8M333.6 613.4l-6.8 6.8" stroke="#1a1a1a" stroke-width="1.2"/>
<rect x="190.6" y="652.6" width="22.6" height="22.8" fill="#2d8fd4" stroke="#16324c" stroke-width="1"/>
<rect x="312.2" y="651.6" width="38.4" height="25.8" fill="#2d8fd4" stroke="#16324c" stroke-width="1"/>
<rect x="190.6" y="656" width="160" height="18" fill="#c8c8c8" stroke="#222" stroke-width="1.5"/>
<path d="M191 665H350" stroke="#8c8c8c" stroke-width="1"/>
<rect x="196" y="609.4" width="13.8" height="5.6" fill="#cfe6f6" stroke="#16324c" stroke-width="1"/>
<rect x="196" y="637.6" width="13.8" height="5.6" fill="#cfe6f6" stroke="#16324c" stroke-width="1"/>
<rect x="193.8" y="614.4" width="18" height="23.6" fill="#6f9ad6" stroke="#16324c" stroke-width="1.2"/>
<path d="M202.2 618V637" stroke="#16324c" stroke-width="0.9" stroke-dasharray="1.5 1.5"/>
<path d="M202.2 643.6V653" stroke="#222" stroke-width="1.3"/>
<ellipse cx="205.6" cy="568.8" rx="17.6" ry="11.8" fill="url(#gExt)"/>
<rect x="194" y="563" width="9" height="7.6" fill="#f4d0cc" opacity="0.75"/>
<path d="M205.6 580v4.4l-2.4 4.2" stroke="#8a8f96" stroke-width="2.2" fill="none"/>
<path d="M206 555.8V558" stroke="#1c1c1c" stroke-width="1.9"/>
<rect x="93.8" y="550.6" width="65" height="5.8" fill="#1f8e82"/>
<rect x="98" y="556" width="56.5" height="6" fill="#17766d"/>
<rect x="80" y="565" width="90" height="83.6" rx="3" fill="url(#gTeal)"/>
<rect x="82.2" y="561.6" width="85.6" height="5" fill="#1c8479"/>
<rect x="88.6" y="574" width="72" height="66.6" rx="2" fill="none" stroke="#0e5f58" stroke-width="1.1"/>
<rect x="80.4" y="577" width="3.6" height="10" fill="#0f6a62"/><rect x="80.4" y="620" width="3.6" height="10" fill="#0f6a62"/>
<rect x="113.4" y="586.8" width="27" height="14.6" fill="#fbfbfb"/>
<rect x="115.4" y="607" width="23" height="14.2" fill="#c9bf9a"/>
<path d="M117 610.5h20M117 613.5h20M117 616.5h20" stroke="#9a906c" stroke-width="0.8"/>
<rect x="97.6" y="626" width="13.6" height="6" fill="#d2b98c"/>
<rect x="122.0" y="626" width="12.4" height="6" fill="#d2b98c"/>
<rect x="142.6" y="626" width="13.0" height="6" fill="#d2b98c"/>
<rect x="124.5" y="627.4" width="7.4" height="3.4" fill="#2a2a22"/>
<rect x="152.4" y="596" width="2.6" height="14" rx="1.2" fill="#0e5f58"/>
<circle cx="155.4" cy="590" r="1" fill="#d8e8e4"/>
<circle cx="92.0" cy="569.0" r="0.9" fill="#0b4f49"/>
<circle cx="112.0" cy="569.0" r="0.9" fill="#0b4f49"/>
<circle cx="132.0" cy="569.0" r="0.9" fill="#0b4f49"/>
<circle cx="152.0" cy="569.0" r="0.9" fill="#0b4f49"/>
<circle cx="166.0" cy="576.0" r="0.9" fill="#0b4f49"/>
<circle cx="166.0" cy="600.0" r="0.9" fill="#0b4f49"/>
<circle cx="166.0" cy="624.0" r="0.9" fill="#0b4f49"/>
<circle cx="92.0" cy="644.5" r="0.9" fill="#0b4f49"/>
<circle cx="112.0" cy="644.5" r="0.9" fill="#0b4f49"/>
<circle cx="132.0" cy="644.5" r="0.9" fill="#0b4f49"/>
<circle cx="152.0" cy="644.5" r="0.9" fill="#0b4f49"/>
<path d="M433.4 437V680" stroke="#111" stroke-width="3.4" stroke-dasharray="3.6 3.6"/>
<path d="M655.4 437V680" stroke="#111" stroke-width="3.4" stroke-dasharray="3.6 3.6"/>
<path d="M855.2 437V680" stroke="#111" stroke-width="3.4" stroke-dasharray="3.6 3.6"/>
<path d="M1054.8 437V680" stroke="#111" stroke-width="3.4" stroke-dasharray="3.6 3.6"/>
<text x="569.25" y="70.84" font-family="'Liberation Sans','Noto Sans CJK SC',sans-serif" font-size="27.1" font-weight="bold" fill="#000" stroke="#000" stroke-width="0.38" textLength="541.8" lengthAdjust="spacingAndGlyphs">矿用光纤测温自动防灭火监测预警系统框架图</text>
<text x="80.12" y="96.82" font-family="'Liberation Sans','Noto Sans CJK SC',sans-serif" font-size="16" font-weight="bold" fill="#2b2b2b" letter-spacing="2.24">本地防灭火监控</text>
<text x="115.61" y="113.71" font-family="'Liberation Sans','Noto Sans CJK SC',sans-serif" font-size="16.3" font-weight="bold" fill="#2b2b2b" letter-spacing="2.29">服务器</text>
<text x="349.36" y="67.95" font-family="'Liberation Serif','Noto Serif CJK SC',serif" font-size="15.4" fill="#1e1e1e" letter-spacing="3.08">核心交换机</text>
<text x="137.82" y="214.86" font-family="'Liberation Sans','Noto Sans CJK SC',sans-serif" font-size="16.9" fill="#2b2b2b" letter-spacing="1.35">交换机</text>
<text x="61.21" y="269.19" font-family="'Liberation Sans','Noto Sans CJK SC',sans-serif" font-size="18" fill="#333">网线</text>
<text x="230.70" y="289.43" font-family="'Liberation Sans','Noto Sans CJK SC',sans-serif" font-size="12.1" font-weight="bold" fill="#111">RS485</text>
<text x="173.09" y="311.63" font-family="'Liberation Sans','Noto Sans CJK SC',sans-serif" font-size="10.9" font-weight="bold" fill="#111">红外热像仪</text>
<text x="77.89" y="408.86" font-family="'Liberation Sans','Noto Sans CJK SC',sans-serif" font-size="12.4" font-weight="bold" fill="#000">127V</text>
<text transform="translate(97.21 448.63) scale(1.515 1)" x="0" y="0" font-family="'Liberation Serif','Noto Serif CJK SC',serif" font-size="12.1" fill="#5c5c5c" letter-spacing="0.73">直流电源</text>
<text x="344.21" y="251.17" font-family="'Liberation Sans','Noto Sans CJK SC',sans-serif" font-size="12.06" font-weight="bold" fill="#e8201c">矿用本安型电动球阀</text>
<text x="600.41" y="251.54" font-family="'Liberation Sans','Noto Sans CJK SC',sans-serif" font-size="11.98" font-weight="bold" fill="#e8201c">矿用本安型电动球阀</text>
<text x="1020.41" y="246.62" font-family="'Liberation Sans','Noto Sans CJK SC',sans-serif" font-size="12.19" font-weight="bold" fill="#e8201c">矿用本安型电动球阀</text>
<text x="482.87" y="250.86" font-family="'Liberation Sans','Noto Sans CJK SC',sans-serif" font-size="12" fill="#2b2b2b">火焰</text>
<text x="472.00" y="347.68" font-family="'Liberation Sans','Noto Sans CJK SC',sans-serif" font-size="11.9" fill="#2b2b2b">一氧化碳</text>
<text x="251.01" y="424.11" font-family="'Liberation Sans','Noto Sans CJK SC',sans-serif" font-size="11.5" font-weight="bold" fill="#2b2b2b">烟雾</text>
<text x="516.70" y="425.51" font-family="'Liberation Sans','Noto Sans CJK SC',sans-serif" font-size="11.9" font-weight="bold" fill="#2b2b2b">烟雾</text>
<text x="794.22" y="424.92" font-family="'Liberation Sans','Noto Sans CJK SC',sans-serif" font-size="11.4" font-weight="bold" fill="#2b2b2b">烟雾</text>
<text x="921.30" y="420.73" font-family="'Liberation Sans','Noto Sans CJK SC',sans-serif" font-size="11.9" font-weight="bold" fill="#2b2b2b">烟雾</text>
<text x="1194.51" y="419.86" font-family="'Liberation Sans','Noto Sans CJK SC',sans-serif" font-size="11.7" font-weight="bold" fill="#2b2b2b">烟雾</text>
<text x="297.64" y="423.76" font-family="'Liberation Sans','Noto Sans CJK SC',sans-serif" font-size="11.5" fill="#2b2b2b">水压</text>
<text x="624.44" y="424.66" font-family="'Liberation Sans','Noto Sans CJK SC',sans-serif" font-size="11.5" fill="#2b2b2b">水压</text>
<text x="1028.65" y="419.82" font-family="'Liberation Sans','Noto Sans CJK SC',sans-serif" font-size="11.4" fill="#2b2b2b">水压</text>
<text x="111.03" y="347.32" font-family="'Liberation Sans','Noto Sans CJK SC',sans-serif" font-size="11.8" fill="#333">水管</text>
<text x="304.62" y="438.63" font-family="'Liberation Sans','Noto Sans CJK SC',sans-serif" font-size="12.2" fill="#333">水管</text>
<text x="572.94" y="438.43" font-family="'Liberation Sans','Noto Sans CJK SC',sans-serif" font-size="11.7" fill="#333">水管</text>
<text x="755.62" y="439.38" font-family="'Liberation Sans','Noto Sans CJK SC',sans-serif" font-size="12.2" fill="#333">水管</text>
<text x="852.03" y="347.32" font-family="'Liberation Sans','Noto Sans CJK SC',sans-serif" font-size="11.8" fill="#333">水管</text>
<text x="935.42" y="438.74" font-family="'Liberation Sans','Noto Sans CJK SC',sans-serif" font-size="12.1" fill="#333">水管</text>
<text x="1097.24" y="347.58" font-family="'Liberation Sans','Noto Sans CJK SC',sans-serif" font-size="11.7" fill="#333">水管</text>
<text x="1157.83" y="436.86" font-family="'Liberation Sans','Noto Sans CJK SC',sans-serif" font-size="11.9" fill="#333">水管</text>
<text x="391.52" y="424.37" font-family="'Liberation Sans','Noto Sans CJK SC',sans-serif" font-size="11.6" font-weight="bold" fill="#2b2b2b">报警器</text>
<text x="682.32" y="424.43" font-family="'Liberation Sans','Noto Sans CJK SC',sans-serif" font-size="11.8" font-weight="bold" fill="#2b2b2b">报警器</text>
<text x="1089.21" y="420.05" font-family="'Liberation Sans','Noto Sans CJK SC',sans-serif" font-size="12" font-weight="bold" fill="#2b2b2b">报警器</text>
<text x="1233.32" y="419.31" font-family="'Liberation Sans','Noto Sans CJK SC',sans-serif" font-size="8.95" font-weight="bold" fill="#2b2b2b">CO</text>
<text x="90.20" y="524.58" font-family="'Liberation Sans','Noto Sans CJK SC',sans-serif" font-size="11.04" fill="#2b2b2b" letter-spacing="0.88">矿用隔爆兼本</text>
<text x="89.79" y="536.02" font-family="'Liberation Sans','Noto Sans CJK SC',sans-serif" font-size="11.11" fill="#2b2b2b" letter-spacing="0.89">安型分布式光</text>
<text x="95.98" y="547.12" font-family="'Liberation Sans','Noto Sans CJK SC',sans-serif" font-size="11.09" fill="#2b2b2b" letter-spacing="0.89">纤测温主机</text>
<text x="67.05" y="662.29" font-family="'Liberation Sans','Noto Sans CJK SC',sans-serif" font-size="10.3" font-weight="bold" fill="#2b2b2b" textLength="101.6" lengthAdjust="spacing">127/660/1140V供电</text>
<text x="184.68" y="553.49" font-family="'Liberation Sans','Noto Sans CJK SC',sans-serif" font-size="11.9" fill="#333">干粉灭火器</text>
<text x="192.06" y="601.44" font-family="'Liberation Sans','Noto Sans CJK SC',sans-serif" font-size="12.1" fill="#333">电机</text>
<text x="238.82" y="581.22" font-family="'Liberation Sans','Noto Sans CJK SC',sans-serif" font-size="11.1" fill="#333">联轴器</text>
<text x="253.39" y="519.79" font-family="'Liberation Sans','Noto Sans CJK SC',sans-serif" font-size="12.4" fill="#333">滚筒</text>
<text x="273.57" y="544.39" font-family="'Liberation Sans','Noto Sans CJK SC',sans-serif" font-size="13.3" font-weight="bold" fill="#e03a3a">通道1</text>
<text x="376.15" y="610.22" font-family="'Liberation Sans','Noto Sans CJK SC',sans-serif" font-size="11.6" fill="#333">减速器</text>
<text x="362.83" y="667.79" font-family="'Liberation Sans','Noto Sans CJK SC',sans-serif" font-size="11.5" fill="#333">传送带</text>
<text x="462.48" y="545.12" font-family="'Liberation Sans','Noto Sans CJK SC',sans-serif" font-size="14" fill="#d02c3c">矿用感温铠装光缆</text>
<text x="626.81" y="546.61" font-family="'Liberation Sans','Noto Sans CJK SC',sans-serif" font-size="10.6" fill="#444">传送带</text>
<text x="471.47" y="617.08" font-family="'Liberation Sans','Noto Sans CJK SC',sans-serif" font-size="13.4" font-weight="bold" fill="#222" textLength="141.4" lengthAdjust="spacing">分区监测范围50~200米</text>
<text x="685.07" y="617.07" font-family="'Liberation Sans','Noto Sans CJK SC',sans-serif" font-size="13.4" font-weight="bold" fill="#222" textLength="141.0" lengthAdjust="spacing">分区监测范围50~200米</text>
<text x="884.57" y="617.06" font-family="'Liberation Sans','Noto Sans CJK SC',sans-serif" font-size="13.4" font-weight="bold" fill="#222" textLength="140.7" lengthAdjust="spacing">分区监测范围50~200米</text>
<text x="1083.87" y="617.10" font-family="'Liberation Sans','Noto Sans CJK SC',sans-serif" font-size="13.4" font-weight="bold" fill="#222" textLength="141.8" lengthAdjust="spacing">分区监测范围50~200米</text>
<text x="490.08" y="673.66" font-family="'Liberation Serif','Noto Serif CJK SC',serif" font-size="24.5" fill="#222">1号分区</text>
<text x="703.54" y="672.42" font-family="'Liberation Serif','Noto Serif CJK SC',serif" font-size="23.2" fill="#222">2号分区</text>
<text x="895.00" y="672.70" font-family="'Liberation Serif','Noto Serif CJK SC',serif" font-size="23.9" fill="#222">N-1号分区</text>
<text x="1108.47" y="672.01" font-family="'Liberation Serif','Noto Serif CJK SC',serif" font-size="22.1" fill="#222">N号分区</text>
</svg></body></html>
